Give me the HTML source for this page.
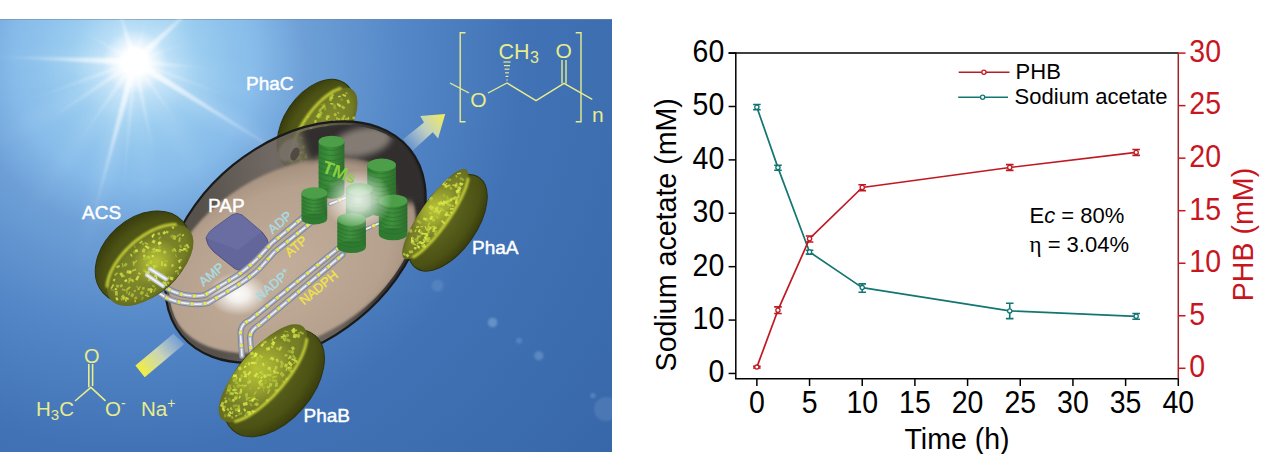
<!DOCTYPE html>
<html><head><meta charset="utf-8">
<style>
html,body{margin:0;padding:0;background:#fff;}
body{width:1269px;height:454px;overflow:hidden;position:relative;font-family:"Liberation Sans",sans-serif;}
svg{position:absolute;left:0;top:0;}
</style></head>
<body>
<svg width="1269" height="454" viewBox="0 0 1269 454" font-family="Liberation Sans, sans-serif">
<defs>
<radialGradient id="bg" gradientUnits="userSpaceOnUse" cx="134.7" cy="61.7" r="620">
    <stop offset="0" stop-color="#c8e6fa"/>
    <stop offset="0.1" stop-color="#98cbef"/>
    <stop offset="0.194" stop-color="#87bcea"/>
    <stop offset="0.274" stop-color="#6ea0d7"/>
    <stop offset="0.435" stop-color="#5487c7"/>
    <stop offset="0.629" stop-color="#4072b5"/>
    <stop offset="0.774" stop-color="#3c6eb0"/>
    <stop offset="1" stop-color="#3867a8"/>
  </radialGradient>
  <radialGradient id="sunglow" cx="134.7" cy="61.7" r="95" gradientUnits="userSpaceOnUse">
    <stop offset="0" stop-color="#ffffff" stop-opacity="1"/>
    <stop offset="0.12" stop-color="#f4fbff" stop-opacity="0.8"/>
    <stop offset="0.35" stop-color="#d0ecfc" stop-opacity="0.35"/>
    <stop offset="0.7" stop-color="#b8e0f8" stop-opacity="0.1"/>
    <stop offset="1" stop-color="#b0dcf6" stop-opacity="0"/>
  </radialGradient>
  <radialGradient id="suncore" cx="0.5" cy="0.5" r="0.5">
    <stop offset="0" stop-color="#fff" stop-opacity="1"/>
    <stop offset="0.3" stop-color="#fff" stop-opacity="0.9"/>
    <stop offset="0.6" stop-color="#fff" stop-opacity="0.35"/>
    <stop offset="1" stop-color="#fff" stop-opacity="0"/>
  </radialGradient>
  <linearGradient id="ray" x1="0" y1="0" x2="1" y2="0">
    <stop offset="0" stop-color="#fff" stop-opacity="0.95"/>
    <stop offset="0.3" stop-color="#fff" stop-opacity="0.6"/>
    <stop offset="0.7" stop-color="#fff" stop-opacity="0.2"/>
    <stop offset="1" stop-color="#fff" stop-opacity="0"/>
  </linearGradient>
  <radialGradient id="floor" cx="0.42" cy="0.55" r="0.6">
    <stop offset="0" stop-color="#c2ae9a"/>
    <stop offset="0.75" stop-color="#b6a18e"/>
    <stop offset="0.93" stop-color="#a89280"/>
    <stop offset="1" stop-color="#7e7066"/>
  </radialGradient>
  <radialGradient id="wheel" cx="0.55" cy="0.4" r="0.65">
    <stop offset="0" stop-color="#9c9a2a"/>
    <stop offset="0.6" stop-color="#7f7d1c"/>
    <stop offset="1" stop-color="#4d4b0e"/>
  </radialGradient>
  <radialGradient id="wheelside" cx="0.5" cy="0.5" r="0.6">
    <stop offset="0" stop-color="#777516"/>
    <stop offset="1" stop-color="#4a480c"/>
  </radialGradient>
  <linearGradient id="arrowG" gradientUnits="userSpaceOnUse" x1="405" y1="146" x2="445" y2="114">
    <stop offset="0" stop-color="#e8eef0" stop-opacity="0.1"/>
    <stop offset="0.5" stop-color="#eef0c0" stop-opacity="0.7"/>
    <stop offset="1" stop-color="#f2ee50" stop-opacity="1"/>
  </linearGradient>
  <linearGradient id="barG" gradientUnits="userSpaceOnUse" x1="140" y1="371" x2="180" y2="339">
    <stop offset="0" stop-color="#f0ee40" stop-opacity="1"/>
    <stop offset="0.5" stop-color="#e8eab0" stop-opacity="0.8"/>
    <stop offset="1" stop-color="#dde6f0" stop-opacity="0.25"/>
  </linearGradient>
  <radialGradient id="glow" cx="0.5" cy="0.5" r="0.5">
    <stop offset="0" stop-color="#fff" stop-opacity="1"/>
    <stop offset="0.35" stop-color="#fff" stop-opacity="0.85"/>
    <stop offset="1" stop-color="#fff" stop-opacity="0"/>
  </radialGradient>
  <linearGradient id="cyl" x1="0" y1="0" x2="1" y2="0">
    <stop offset="0" stop-color="#2f7c31"/>
    <stop offset="0.45" stop-color="#3f923d"/>
    <stop offset="1" stop-color="#2c6e2c"/>
  </linearGradient>
  <linearGradient id="shellG" gradientUnits="userSpaceOnUse" gradientTransform="rotate(39.2 295.5 242.1)" x1="200" y1="200" x2="420" y2="170">
    <stop offset="0" stop-color="#57514c"/>
    <stop offset="0.35" stop-color="#716a64"/>
    <stop offset="0.55" stop-color="#676059"/>
    <stop offset="0.75" stop-color="#3c3937"/>
    <stop offset="1" stop-color="#2c2a29"/>
  </linearGradient>
  <radialGradient id="treadU" cx="0.5" cy="0.35" r="0.7">
    <stop offset="0" stop-color="#646a22"/>
    <stop offset="0.7" stop-color="#4c5214"/>
    <stop offset="1" stop-color="#30340a"/>
  </radialGradient>
  <radialGradient id="treadD" cx="0.5" cy="0.65" r="0.7">
    <stop offset="0" stop-color="#646a22"/>
    <stop offset="0.7" stop-color="#4c5214"/>
    <stop offset="1" stop-color="#30340a"/>
  </radialGradient>
  <radialGradient id="face" cx="0.5" cy="0.5" r="0.55">
    <stop offset="0" stop-color="#8a9230"/>
    <stop offset="0.75" stop-color="#747c26"/>
    <stop offset="1" stop-color="#5a6018"/>
  </radialGradient>
  <radialGradient id="yglow" cx="0.5" cy="0.5" r="0.5">
    <stop offset="0" stop-color="#d4e03a" stop-opacity="0.65"/>
    <stop offset="1" stop-color="#d4e03a" stop-opacity="0"/>
  </radialGradient>
  <filter id="soft" x="-10%" y="-10%" width="120%" height="120%"><feGaussianBlur stdDeviation="0.8"/></filter>
  <filter id="blur6" x="-30%" y="-100%" width="160%" height="300%"><feGaussianBlur stdDeviation="6"/></filter>
  <filter id="blur3" x="-20%" y="-20%" width="140%" height="140%"><feGaussianBlur stdDeviation="3"/></filter>
  <filter id="blur2" x="-20%" y="-20%" width="140%" height="140%"><feGaussianBlur stdDeviation="1.6"/></filter>
  <linearGradient id="innerWall" gradientUnits="userSpaceOnUse" x1="290" y1="200" x2="420" y2="180">
    <stop offset="0" stop-color="#7a716a" stop-opacity="0"/>
    <stop offset="0.5" stop-color="#7a716a" stop-opacity="0.7"/>
    <stop offset="1" stop-color="#857b73" stop-opacity="1"/>
  </linearGradient>
  <radialGradient id="wallG" cx="0.5" cy="0.6" r="0.6">
    <stop offset="0" stop-color="#8a8077"/>
    <stop offset="0.75" stop-color="#6b635c"/>
    <stop offset="1" stop-color="#4a4440"/>
  </radialGradient>
  <clipPath id="illusClip"><rect x="0" y="19" width="612" height="433"/></clipPath>
</defs>
<g id="illus">
<g clip-path="url(#illusClip)">
<rect x="0" y="19" width="612" height="433" fill="url(#bg)"/>
<rect x="0" y="19" width="612" height="433" fill="url(#sunglow)"/>
<rect x="0" y="19" width="612" height="1" fill="#6f8aa8" opacity="0.55"/>
<circle cx="492.6" cy="322.5" r="4.8" fill="#cfe6fb" opacity="0.28" filter="url(#soft)"/>
<circle cx="519" cy="340.7" r="3" fill="#cfe6fb" opacity="0.18" filter="url(#soft)"/>
<circle cx="538.8" cy="355.8" r="4.6" fill="#cfe6fb" opacity="0.22" filter="url(#soft)"/>
<circle cx="593" cy="395.7" r="2.6" fill="#cfe6fb" opacity="0.2" filter="url(#soft)"/>
<circle cx="606" cy="409" r="12" fill="#cfe6fb" opacity="0.12" filter="url(#soft)"/>
<circle cx="437.6" cy="285.7" r="6" fill="#cfe6fb" opacity="0.12" filter="url(#soft)"/>
<g transform="translate(134.7 61.7) rotate(105)"><path d="M0 -14 L230 -4.2 L230 4.2 L0 14 Z" fill="url(#ray)" opacity="0.2" filter="url(#blur6)"/></g>
<g transform="translate(134.7 61.7) rotate(32)"><path d="M0 -14 L260 -4.2 L260 4.2 L0 14 Z" fill="url(#ray)" opacity="0.2" filter="url(#blur6)"/></g>
<g transform="translate(134.7 61.7) rotate(150)"><path d="M0 -12 L200 -3.6 L200 3.6 L0 12 Z" fill="url(#ray)" opacity="0.14" filter="url(#blur6)"/></g>
<g transform="translate(134.7 61.7) rotate(182)"><path d="M0 -10 L160 -3.0 L160 3.0 L0 10 Z" fill="url(#ray)" opacity="0.18" filter="url(#blur6)"/></g>
<g transform="translate(134.7 61.7) rotate(-43)"><path d="M0 -10 L120 -3.0 L120 3.0 L0 10 Z" fill="url(#ray)" opacity="0.18" filter="url(#blur6)"/></g>
<g transform="translate(134.7 61.7) rotate(125)"><path d="M0 -12 L220 -3.6 L220 3.6 L0 12 Z" fill="url(#ray)" opacity="0.12" filter="url(#blur6)"/></g>
<g transform="translate(134.7 61.7) rotate(60)"><path d="M0 -12 L200 -3.6 L200 3.6 L0 12 Z" fill="url(#ray)" opacity="0.1" filter="url(#blur6)"/></g>
<g transform="translate(134.7 61.7) rotate(5)"><path d="M0 -9 L150 -2.7 L150 2.7 L0 9 Z" fill="url(#ray)" opacity="0.12" filter="url(#blur6)"/></g>
<g transform="translate(134.7 61.7) rotate(-107)"><path d="M0 -9 L60 -2.7 L60 2.7 L0 9 Z" fill="url(#ray)" opacity="0.18" filter="url(#blur6)"/></g>
<g transform="translate(134.7 61.7) rotate(85)"><path d="M0 -10 L200 -3.0 L200 3.0 L0 10 Z" fill="url(#ray)" opacity="0.1" filter="url(#blur6)"/></g>
<g transform="translate(134.7 61.7) rotate(170)"><path d="M0 -9 L150 -2.7 L150 2.7 L0 9 Z" fill="url(#ray)" opacity="0.1" filter="url(#blur6)"/></g>
<g transform="translate(134.7 61.7) rotate(15)"><path d="M0 -10 L220 -3.0 L220 3.0 L0 10 Z" fill="url(#ray)" opacity="0.1" filter="url(#blur6)"/></g>
<g transform="translate(134.7 61.7) rotate(-107)"><path d="M0 -3.0 L70 0 L0 3.0 Z" fill="url(#ray)" opacity="0.95" filter="url(#soft)"/></g>
<g transform="translate(134.7 61.7) rotate(-43)"><path d="M0 -3.4 L110 0 L0 3.4 Z" fill="url(#ray)" opacity="0.95" filter="url(#soft)"/></g>
<g transform="translate(134.7 61.7) rotate(182)"><path d="M0 -3.4 L150 0 L0 3.4 Z" fill="url(#ray)" opacity="0.95" filter="url(#soft)"/></g>
<g transform="translate(134.7 61.7) rotate(105)"><path d="M0 -3.6 L180 0 L0 3.6 Z" fill="url(#ray)" opacity="0.95" filter="url(#soft)"/></g>
<g transform="translate(134.7 61.7) rotate(32)"><path d="M0 -3.6 L200 0 L0 3.6 Z" fill="url(#ray)" opacity="0.95" filter="url(#soft)"/></g>
<g transform="translate(134.7 61.7) rotate(5)"><path d="M0 -2.4 L80 0 L0 2.4 Z" fill="url(#ray)" opacity="0.7" filter="url(#soft)"/></g>
<g transform="translate(134.7 61.7) rotate(78.5)"><path d="M0 -2.6 L110 0 L0 2.6 Z" fill="url(#ray)" opacity="0.6" filter="url(#soft)"/></g>
<g transform="translate(134.7 61.7) rotate(146)"><path d="M0 -2.6 L120 0 L0 2.6 Z" fill="url(#ray)" opacity="0.6" filter="url(#soft)"/></g>
<g transform="translate(134.7 61.7) rotate(-75)"><path d="M0 -2.0 L50 0 L0 2.0 Z" fill="url(#ray)" opacity="0.55" filter="url(#soft)"/></g>
<g transform="translate(134.7 61.7) rotate(-150)"><path d="M0 -2.0 L70 0 L0 2.0 Z" fill="url(#ray)" opacity="0.5" filter="url(#soft)"/></g>
<g transform="translate(134.7 61.7) rotate(55)"><path d="M0 -2.0 L90 0 L0 2.0 Z" fill="url(#ray)" opacity="0.5" filter="url(#soft)"/></g>
<g transform="translate(134.7 61.7) rotate(125)"><path d="M0 -2.2 L110 0 L0 2.2 Z" fill="url(#ray)" opacity="0.55" filter="url(#soft)"/></g>
<g transform="translate(134.7 61.7) rotate(160)"><path d="M0 -2.2 L130 0 L0 2.2 Z" fill="url(#ray)" opacity="0.45" filter="url(#soft)"/></g>
<g transform="translate(134.7 61.7) rotate(95)"><path d="M0 -2.2 L150 0 L0 2.2 Z" fill="url(#ray)" opacity="0.45" filter="url(#soft)"/></g>
<g transform="translate(134.7 61.7) rotate(20)"><path d="M0 -2.0 L120 0 L0 2.0 Z" fill="url(#ray)" opacity="0.45" filter="url(#soft)"/></g>
<g transform="translate(134.7 61.7) rotate(-20)"><path d="M0 -1.8 L70 0 L0 1.8 Z" fill="url(#ray)" opacity="0.4" filter="url(#soft)"/></g>
<circle cx="134.7" cy="61.7" r="32" fill="url(#suncore)"/>
<circle cx="134.7" cy="61.7" r="13" fill="#fff" filter="url(#blur2)"/>
<g transform="rotate(-56 316 125)">
<ellipse cx="316" cy="125" rx="50.7" ry="32" fill="url(#treadD)" stroke="#2e320a" stroke-width="1"/>
</g>
<clipPath id="clipC"><ellipse cx="324.3" cy="130.6" rx="49.7" ry="22.0" transform="rotate(-56 324.3 130.6)"/></clipPath>
<ellipse cx="324.3" cy="130.6" rx="49.7" ry="22.0" transform="rotate(-56 324.3 130.6)" fill="url(#face)"/>
<g clip-path="url(#clipC)">
<rect x="309.7" y="160.2" width="4.8" height="2.1" fill="#c4da40" opacity="0.71" transform="rotate(91 309.7 160.2)"/>
<rect x="319.2" y="114.5" width="3.8" height="1.6" fill="#d8e848" opacity="0.51" transform="rotate(80 319.2 114.5)"/>
<rect x="305.0" y="146.3" width="3.4" height="2.7" fill="#d8e848" opacity="0.73" transform="rotate(117 305.0 146.3)"/>
<rect x="337.3" y="117.0" width="2.7" height="1.3" fill="#c4da40" opacity="0.65" transform="rotate(84 337.3 117.0)"/>
<rect x="302.4" y="159.6" width="3.5" height="2.5" fill="#d8e848" opacity="0.58" transform="rotate(82 302.4 159.6)"/>
<rect x="311.4" y="130.0" width="2.7" height="1.8" fill="#a8c038" opacity="0.79" transform="rotate(13 311.4 130.0)"/>
<rect x="340.7" y="118.5" width="2.2" height="1.2" fill="#d8e848" opacity="0.55" transform="rotate(123 340.7 118.5)"/>
<rect x="302.5" y="169.6" width="3.2" height="1.3" fill="#e6f250" opacity="0.80" transform="rotate(113 302.5 169.6)"/>
<rect x="324.9" y="147.0" width="2.0" height="2.0" fill="#d8e848" opacity="0.51" transform="rotate(166 324.9 147.0)"/>
<rect x="342.5" y="105.3" width="3.5" height="2.6" fill="#c4da40" opacity="0.68" transform="rotate(34 342.5 105.3)"/>
<rect x="315.5" y="154.5" width="3.2" height="3.2" fill="#e6f250" opacity="0.84" transform="rotate(0 315.5 154.5)"/>
<rect x="327.8" y="125.3" width="2.6" height="3.2" fill="#d8e848" opacity="0.71" transform="rotate(108 327.8 125.3)"/>
<rect x="335.6" y="112.8" width="2.8" height="2.7" fill="#d8e848" opacity="0.58" transform="rotate(59 335.6 112.8)"/>
<rect x="338.2" y="117.5" width="3.9" height="1.2" fill="#c4da40" opacity="0.73" transform="rotate(66 338.2 117.5)"/>
<rect x="338.5" y="103.1" width="3.7" height="2.9" fill="#c4da40" opacity="0.52" transform="rotate(33 338.5 103.1)"/>
<rect x="321.9" y="117.6" width="2.6" height="2.7" fill="#a8c038" opacity="0.54" transform="rotate(169 321.9 117.6)"/>
<rect x="330.2" y="102.9" width="3.3" height="1.4" fill="#c4da40" opacity="0.88" transform="rotate(7 330.2 102.9)"/>
<rect x="312.8" y="125.0" width="3.3" height="3.0" fill="#d8e848" opacity="0.68" transform="rotate(88 312.8 125.0)"/>
<rect x="345.0" y="117.8" width="4.0" height="2.4" fill="#c4da40" opacity="0.55" transform="rotate(13 345.0 117.8)"/>
<rect x="319.8" y="127.7" width="3.2" height="1.7" fill="#c4da40" opacity="0.58" transform="rotate(8 319.8 127.7)"/>
<rect x="335.7" y="121.1" width="3.4" height="1.9" fill="#c4da40" opacity="0.68" transform="rotate(132 335.7 121.1)"/>
<rect x="294.9" y="155.5" width="3.4" height="1.9" fill="#d8e848" opacity="0.47" transform="rotate(56 294.9 155.5)"/>
<rect x="304.2" y="163.9" width="3.0" height="3.2" fill="#d8e848" opacity="0.70" transform="rotate(14 304.2 163.9)"/>
<rect x="333.6" y="98.5" width="4.1" height="2.8" fill="#a8c038" opacity="0.61" transform="rotate(165 333.6 98.5)"/>
<rect x="334.5" y="95.7" width="3.3" height="2.8" fill="#a8c038" opacity="0.71" transform="rotate(155 334.5 95.7)"/>
<rect x="323.5" y="134.5" width="2.2" height="1.4" fill="#a8c038" opacity="0.57" transform="rotate(21 323.5 134.5)"/>
<rect x="311.8" y="126.8" width="4.2" height="2.4" fill="#d8e848" opacity="0.83" transform="rotate(79 311.8 126.8)"/>
<rect x="304.7" y="156.6" width="2.9" height="1.4" fill="#d8e848" opacity="0.88" transform="rotate(4 304.7 156.6)"/>
<rect x="304.5" y="160.5" width="4.8" height="1.7" fill="#c4da40" opacity="0.59" transform="rotate(2 304.5 160.5)"/>
<rect x="300.6" y="162.1" width="3.0" height="3.1" fill="#a8c038" opacity="0.56" transform="rotate(90 300.6 162.1)"/>
<rect x="312.1" y="134.8" width="3.3" height="2.8" fill="#a8c038" opacity="0.85" transform="rotate(165 312.1 134.8)"/>
<rect x="344.8" y="134.3" width="2.6" height="1.5" fill="#d8e848" opacity="0.85" transform="rotate(63 344.8 134.3)"/>
<rect x="302.4" y="128.8" width="2.8" height="1.5" fill="#c4da40" opacity="0.57" transform="rotate(81 302.4 128.8)"/>
<rect x="322.9" y="113.1" width="3.6" height="2.5" fill="#a8c038" opacity="0.83" transform="rotate(129 322.9 113.1)"/>
<rect x="328.1" y="154.7" width="2.8" height="2.4" fill="#e6f250" opacity="0.58" transform="rotate(122 328.1 154.7)"/>
<rect x="330.0" y="152.2" width="2.1" height="1.5" fill="#e6f250" opacity="0.46" transform="rotate(82 330.0 152.2)"/>
<rect x="331.3" y="133.7" width="2.1" height="2.5" fill="#e6f250" opacity="0.73" transform="rotate(80 331.3 133.7)"/>
<rect x="341.1" y="97.9" width="2.6" height="2.2" fill="#a8c038" opacity="0.45" transform="rotate(32 341.1 97.9)"/>
<rect x="318.9" y="137.2" width="2.7" height="2.8" fill="#c4da40" opacity="0.88" transform="rotate(97 318.9 137.2)"/>
<rect x="315.7" y="163.3" width="4.7" height="1.4" fill="#c4da40" opacity="0.78" transform="rotate(168 315.7 163.3)"/>
<rect x="315.8" y="148.1" width="4.7" height="1.2" fill="#e6f250" opacity="0.74" transform="rotate(99 315.8 148.1)"/>
<rect x="307.3" y="162.5" width="2.6" height="2.6" fill="#d8e848" opacity="0.74" transform="rotate(147 307.3 162.5)"/>
<rect x="345.3" y="132.8" width="4.9" height="3.2" fill="#e6f250" opacity="0.81" transform="rotate(97 345.3 132.8)"/>
<rect x="336.9" y="142.6" width="2.0" height="2.2" fill="#a8c038" opacity="0.60" transform="rotate(7 336.9 142.6)"/>
<rect x="314.7" y="119.7" width="2.1" height="2.8" fill="#c4da40" opacity="0.81" transform="rotate(12 314.7 119.7)"/>
<rect x="300.7" y="159.4" width="4.7" height="2.1" fill="#a8c038" opacity="0.86" transform="rotate(180 300.7 159.4)"/>
<rect x="337.3" y="102.9" width="4.8" height="1.4" fill="#e6f250" opacity="0.69" transform="rotate(40 337.3 102.9)"/>
<rect x="322.7" y="109.3" width="2.5" height="2.2" fill="#a8c038" opacity="0.57" transform="rotate(163 322.7 109.3)"/>
<rect x="342.8" y="93.7" width="3.8" height="1.8" fill="#e6f250" opacity="0.70" transform="rotate(25 342.8 93.7)"/>
<rect x="310.7" y="143.6" width="3.6" height="2.2" fill="#d8e848" opacity="0.46" transform="rotate(109 310.7 143.6)"/>
<rect x="307.1" y="153.7" width="4.4" height="2.3" fill="#d8e848" opacity="0.76" transform="rotate(88 307.1 153.7)"/>
<rect x="335.2" y="104.1" width="4.8" height="2.8" fill="#a8c038" opacity="0.56" transform="rotate(73 335.2 104.1)"/>
<rect x="344.0" y="118.5" width="4.4" height="3.0" fill="#c4da40" opacity="0.59" transform="rotate(86 344.0 118.5)"/>
<rect x="321.8" y="137.2" width="2.8" height="2.6" fill="#c4da40" opacity="0.47" transform="rotate(176 321.8 137.2)"/>
<rect x="341.1" y="135.4" width="3.0" height="1.9" fill="#d8e848" opacity="0.50" transform="rotate(112 341.1 135.4)"/>
<rect x="325.7" y="105.5" width="4.2" height="2.6" fill="#a8c038" opacity="0.46" transform="rotate(158 325.7 105.5)"/>
<rect x="321.7" y="109.1" width="3.6" height="2.9" fill="#c4da40" opacity="0.55" transform="rotate(96 321.7 109.1)"/>
<rect x="325.6" y="105.9" width="4.6" height="1.7" fill="#c4da40" opacity="0.81" transform="rotate(133 325.6 105.9)"/>
<rect x="327.1" y="145.0" width="4.8" height="1.6" fill="#c4da40" opacity="0.85" transform="rotate(180 327.1 145.0)"/>
<rect x="327.5" y="117.4" width="2.3" height="2.0" fill="#c4da40" opacity="0.87" transform="rotate(78 327.5 117.4)"/>
<rect x="343.1" y="130.0" width="4.4" height="1.4" fill="#e6f250" opacity="0.61" transform="rotate(103 343.1 130.0)"/>
<rect x="345.8" y="115.8" width="4.3" height="2.2" fill="#d8e848" opacity="0.54" transform="rotate(123 345.8 115.8)"/>
<rect x="320.6" y="136.7" width="4.3" height="2.4" fill="#c4da40" opacity="0.67" transform="rotate(163 320.6 136.7)"/>
<rect x="335.9" y="128.4" width="4.5" height="3.2" fill="#d8e848" opacity="0.49" transform="rotate(167 335.9 128.4)"/>
<rect x="348.7" y="116.8" width="2.2" height="1.4" fill="#e6f250" opacity="0.64" transform="rotate(70 348.7 116.8)"/>
<rect x="311.9" y="160.9" width="2.0" height="2.6" fill="#a8c038" opacity="0.53" transform="rotate(152 311.9 160.9)"/>
<rect x="322.3" y="150.6" width="4.8" height="2.4" fill="#e6f250" opacity="0.81" transform="rotate(17 322.3 150.6)"/>
<rect x="332.9" y="97.7" width="4.1" height="2.9" fill="#c4da40" opacity="0.63" transform="rotate(113 332.9 97.7)"/>
<rect x="298.5" y="167.9" width="4.4" height="1.7" fill="#c4da40" opacity="0.78" transform="rotate(164 298.5 167.9)"/>
<rect x="320.9" y="114.4" width="4.7" height="3.0" fill="#c4da40" opacity="0.80" transform="rotate(125 320.9 114.4)"/>
<rect x="314.2" y="162.7" width="2.2" height="1.9" fill="#e6f250" opacity="0.45" transform="rotate(84 314.2 162.7)"/>
<rect x="347.6" y="94.0" width="2.1" height="1.7" fill="#c4da40" opacity="0.58" transform="rotate(173 347.6 94.0)"/>
<rect x="303.2" y="138.8" width="3.6" height="2.0" fill="#d8e848" opacity="0.74" transform="rotate(180 303.2 138.8)"/>
<rect x="309.6" y="116.7" width="2.1" height="2.4" fill="#a8c038" opacity="0.57" transform="rotate(133 309.6 116.7)"/>
<rect x="301.6" y="163.4" width="3.9" height="1.2" fill="#e6f250" opacity="0.57" transform="rotate(47 301.6 163.4)"/>
<rect x="303.3" y="153.8" width="4.9" height="2.3" fill="#d8e848" opacity="0.74" transform="rotate(179 303.3 153.8)"/>
<rect x="300.2" y="157.3" width="4.9" height="2.0" fill="#c4da40" opacity="0.62" transform="rotate(169 300.2 157.3)"/>
<rect x="326.2" y="106.8" width="3.8" height="2.1" fill="#a8c038" opacity="0.58" transform="rotate(89 326.2 106.8)"/>
<rect x="305.8" y="145.4" width="2.9" height="2.5" fill="#e6f250" opacity="0.58" transform="rotate(101 305.8 145.4)"/>
<rect x="348.9" y="99.4" width="3.8" height="2.5" fill="#d8e848" opacity="0.76" transform="rotate(74 348.9 99.4)"/>
<rect x="333.3" y="98.5" width="2.2" height="3.2" fill="#c4da40" opacity="0.48" transform="rotate(170 333.3 98.5)"/>
<rect x="313.3" y="157.6" width="4.9" height="1.7" fill="#a8c038" opacity="0.87" transform="rotate(94 313.3 157.6)"/>
<rect x="352.7" y="116.4" width="2.7" height="2.6" fill="#d8e848" opacity="0.64" transform="rotate(9 352.7 116.4)"/>
<rect x="329.6" y="130.6" width="3.6" height="1.4" fill="#a8c038" opacity="0.75" transform="rotate(80 329.6 130.6)"/>
<rect x="299.9" y="149.6" width="4.0" height="1.9" fill="#c4da40" opacity="0.82" transform="rotate(134 299.9 149.6)"/>
<rect x="341.0" y="96.7" width="2.7" height="1.4" fill="#e6f250" opacity="0.80" transform="rotate(161 341.0 96.7)"/>
<rect x="334.1" y="143.9" width="4.2" height="2.6" fill="#c4da40" opacity="0.58" transform="rotate(34 334.1 143.9)"/>
<rect x="336.8" y="128.9" width="4.9" height="3.0" fill="#d8e848" opacity="0.47" transform="rotate(158 336.8 128.9)"/>
<rect x="337.8" y="111.7" width="2.1" height="1.3" fill="#d8e848" opacity="0.58" transform="rotate(40 337.8 111.7)"/>
<rect x="329.5" y="115.2" width="2.7" height="3.2" fill="#e6f250" opacity="0.61" transform="rotate(87 329.5 115.2)"/>
</g>
<path d="M291.2 161.2 L291.1 159.5 L291.1 157.8 L291.1 155.9 L291.3 154.0 L291.6 152.0 L291.9 150.0 L292.4 147.9 L293.0 145.7 L293.6 143.5 L294.3 141.3 L295.2 139.0 L296.1 136.7 L297.1 134.4 L298.1 132.1 L299.3 129.7 L300.5 127.4 L301.8 125.1 L303.2 122.8 L304.6 120.5 L306.1 118.3 L307.6 116.1 L309.2 113.9 L310.8 111.8 L312.4 109.7 L314.1 107.7 L315.9 105.8 L317.6 103.9 L319.4 102.1 L321.2 100.4 L323.0 98.8 L324.8 97.3 L326.6 95.9 L328.4 94.6 L330.1 93.3 L331.9 92.2 L333.6 91.2 L335.3 90.4 L337.0 89.6 L338.7 89.0 L340.3 88.4" stroke="#e4f040" stroke-width="2.6" fill="none" opacity="0.85" stroke-linecap="round" filter="url(#soft)"/>
<ellipse cx="295.5" cy="242.1" rx="147.2" ry="99.2" transform="rotate(-39.2 295.5 242.1)" fill="url(#shellG)" stroke="#1a1a1a" stroke-width="2.2"/>
<clipPath id="shellAll"><ellipse cx="295.5" cy="242.1" rx="145.7" ry="97.7" transform="rotate(-39.2 295.5 242.1)" /></clipPath>
<g clip-path="url(#shellAll)" opacity="0.22"><g transform="rotate(-56 316 125)">
<ellipse cx="316" cy="125" rx="50.7" ry="32" fill="url(#treadD)" stroke="#2e320a" stroke-width="1"/>
</g>
<clipPath id="clipC2"><ellipse cx="324.3" cy="130.6" rx="49.7" ry="22.0" transform="rotate(-56 324.3 130.6)"/></clipPath>
<ellipse cx="324.3" cy="130.6" rx="49.7" ry="22.0" transform="rotate(-56 324.3 130.6)" fill="url(#face)"/>
<g clip-path="url(#clipC2)">
<rect x="309.7" y="160.2" width="4.8" height="2.1" fill="#c4da40" opacity="0.71" transform="rotate(91 309.7 160.2)"/>
<rect x="319.2" y="114.5" width="3.8" height="1.6" fill="#d8e848" opacity="0.51" transform="rotate(80 319.2 114.5)"/>
<rect x="305.0" y="146.3" width="3.4" height="2.7" fill="#d8e848" opacity="0.73" transform="rotate(117 305.0 146.3)"/>
<rect x="337.3" y="117.0" width="2.7" height="1.3" fill="#c4da40" opacity="0.65" transform="rotate(84 337.3 117.0)"/>
<rect x="302.4" y="159.6" width="3.5" height="2.5" fill="#d8e848" opacity="0.58" transform="rotate(82 302.4 159.6)"/>
<rect x="311.4" y="130.0" width="2.7" height="1.8" fill="#a8c038" opacity="0.79" transform="rotate(13 311.4 130.0)"/>
<rect x="340.7" y="118.5" width="2.2" height="1.2" fill="#d8e848" opacity="0.55" transform="rotate(123 340.7 118.5)"/>
<rect x="302.5" y="169.6" width="3.2" height="1.3" fill="#e6f250" opacity="0.80" transform="rotate(113 302.5 169.6)"/>
<rect x="324.9" y="147.0" width="2.0" height="2.0" fill="#d8e848" opacity="0.51" transform="rotate(166 324.9 147.0)"/>
<rect x="342.5" y="105.3" width="3.5" height="2.6" fill="#c4da40" opacity="0.68" transform="rotate(34 342.5 105.3)"/>
<rect x="315.5" y="154.5" width="3.2" height="3.2" fill="#e6f250" opacity="0.84" transform="rotate(0 315.5 154.5)"/>
<rect x="327.8" y="125.3" width="2.6" height="3.2" fill="#d8e848" opacity="0.71" transform="rotate(108 327.8 125.3)"/>
<rect x="335.6" y="112.8" width="2.8" height="2.7" fill="#d8e848" opacity="0.58" transform="rotate(59 335.6 112.8)"/>
<rect x="338.2" y="117.5" width="3.9" height="1.2" fill="#c4da40" opacity="0.73" transform="rotate(66 338.2 117.5)"/>
<rect x="338.5" y="103.1" width="3.7" height="2.9" fill="#c4da40" opacity="0.52" transform="rotate(33 338.5 103.1)"/>
<rect x="321.9" y="117.6" width="2.6" height="2.7" fill="#a8c038" opacity="0.54" transform="rotate(169 321.9 117.6)"/>
<rect x="330.2" y="102.9" width="3.3" height="1.4" fill="#c4da40" opacity="0.88" transform="rotate(7 330.2 102.9)"/>
<rect x="312.8" y="125.0" width="3.3" height="3.0" fill="#d8e848" opacity="0.68" transform="rotate(88 312.8 125.0)"/>
<rect x="345.0" y="117.8" width="4.0" height="2.4" fill="#c4da40" opacity="0.55" transform="rotate(13 345.0 117.8)"/>
<rect x="319.8" y="127.7" width="3.2" height="1.7" fill="#c4da40" opacity="0.58" transform="rotate(8 319.8 127.7)"/>
<rect x="335.7" y="121.1" width="3.4" height="1.9" fill="#c4da40" opacity="0.68" transform="rotate(132 335.7 121.1)"/>
<rect x="294.9" y="155.5" width="3.4" height="1.9" fill="#d8e848" opacity="0.47" transform="rotate(56 294.9 155.5)"/>
<rect x="304.2" y="163.9" width="3.0" height="3.2" fill="#d8e848" opacity="0.70" transform="rotate(14 304.2 163.9)"/>
<rect x="333.6" y="98.5" width="4.1" height="2.8" fill="#a8c038" opacity="0.61" transform="rotate(165 333.6 98.5)"/>
<rect x="334.5" y="95.7" width="3.3" height="2.8" fill="#a8c038" opacity="0.71" transform="rotate(155 334.5 95.7)"/>
<rect x="323.5" y="134.5" width="2.2" height="1.4" fill="#a8c038" opacity="0.57" transform="rotate(21 323.5 134.5)"/>
<rect x="311.8" y="126.8" width="4.2" height="2.4" fill="#d8e848" opacity="0.83" transform="rotate(79 311.8 126.8)"/>
<rect x="304.7" y="156.6" width="2.9" height="1.4" fill="#d8e848" opacity="0.88" transform="rotate(4 304.7 156.6)"/>
<rect x="304.5" y="160.5" width="4.8" height="1.7" fill="#c4da40" opacity="0.59" transform="rotate(2 304.5 160.5)"/>
<rect x="300.6" y="162.1" width="3.0" height="3.1" fill="#a8c038" opacity="0.56" transform="rotate(90 300.6 162.1)"/>
<rect x="312.1" y="134.8" width="3.3" height="2.8" fill="#a8c038" opacity="0.85" transform="rotate(165 312.1 134.8)"/>
<rect x="344.8" y="134.3" width="2.6" height="1.5" fill="#d8e848" opacity="0.85" transform="rotate(63 344.8 134.3)"/>
<rect x="302.4" y="128.8" width="2.8" height="1.5" fill="#c4da40" opacity="0.57" transform="rotate(81 302.4 128.8)"/>
<rect x="322.9" y="113.1" width="3.6" height="2.5" fill="#a8c038" opacity="0.83" transform="rotate(129 322.9 113.1)"/>
<rect x="328.1" y="154.7" width="2.8" height="2.4" fill="#e6f250" opacity="0.58" transform="rotate(122 328.1 154.7)"/>
<rect x="330.0" y="152.2" width="2.1" height="1.5" fill="#e6f250" opacity="0.46" transform="rotate(82 330.0 152.2)"/>
<rect x="331.3" y="133.7" width="2.1" height="2.5" fill="#e6f250" opacity="0.73" transform="rotate(80 331.3 133.7)"/>
<rect x="341.1" y="97.9" width="2.6" height="2.2" fill="#a8c038" opacity="0.45" transform="rotate(32 341.1 97.9)"/>
<rect x="318.9" y="137.2" width="2.7" height="2.8" fill="#c4da40" opacity="0.88" transform="rotate(97 318.9 137.2)"/>
<rect x="315.7" y="163.3" width="4.7" height="1.4" fill="#c4da40" opacity="0.78" transform="rotate(168 315.7 163.3)"/>
<rect x="315.8" y="148.1" width="4.7" height="1.2" fill="#e6f250" opacity="0.74" transform="rotate(99 315.8 148.1)"/>
<rect x="307.3" y="162.5" width="2.6" height="2.6" fill="#d8e848" opacity="0.74" transform="rotate(147 307.3 162.5)"/>
<rect x="345.3" y="132.8" width="4.9" height="3.2" fill="#e6f250" opacity="0.81" transform="rotate(97 345.3 132.8)"/>
<rect x="336.9" y="142.6" width="2.0" height="2.2" fill="#a8c038" opacity="0.60" transform="rotate(7 336.9 142.6)"/>
<rect x="314.7" y="119.7" width="2.1" height="2.8" fill="#c4da40" opacity="0.81" transform="rotate(12 314.7 119.7)"/>
<rect x="300.7" y="159.4" width="4.7" height="2.1" fill="#a8c038" opacity="0.86" transform="rotate(180 300.7 159.4)"/>
<rect x="337.3" y="102.9" width="4.8" height="1.4" fill="#e6f250" opacity="0.69" transform="rotate(40 337.3 102.9)"/>
<rect x="322.7" y="109.3" width="2.5" height="2.2" fill="#a8c038" opacity="0.57" transform="rotate(163 322.7 109.3)"/>
<rect x="342.8" y="93.7" width="3.8" height="1.8" fill="#e6f250" opacity="0.70" transform="rotate(25 342.8 93.7)"/>
<rect x="310.7" y="143.6" width="3.6" height="2.2" fill="#d8e848" opacity="0.46" transform="rotate(109 310.7 143.6)"/>
<rect x="307.1" y="153.7" width="4.4" height="2.3" fill="#d8e848" opacity="0.76" transform="rotate(88 307.1 153.7)"/>
<rect x="335.2" y="104.1" width="4.8" height="2.8" fill="#a8c038" opacity="0.56" transform="rotate(73 335.2 104.1)"/>
<rect x="344.0" y="118.5" width="4.4" height="3.0" fill="#c4da40" opacity="0.59" transform="rotate(86 344.0 118.5)"/>
<rect x="321.8" y="137.2" width="2.8" height="2.6" fill="#c4da40" opacity="0.47" transform="rotate(176 321.8 137.2)"/>
<rect x="341.1" y="135.4" width="3.0" height="1.9" fill="#d8e848" opacity="0.50" transform="rotate(112 341.1 135.4)"/>
<rect x="325.7" y="105.5" width="4.2" height="2.6" fill="#a8c038" opacity="0.46" transform="rotate(158 325.7 105.5)"/>
<rect x="321.7" y="109.1" width="3.6" height="2.9" fill="#c4da40" opacity="0.55" transform="rotate(96 321.7 109.1)"/>
<rect x="325.6" y="105.9" width="4.6" height="1.7" fill="#c4da40" opacity="0.81" transform="rotate(133 325.6 105.9)"/>
<rect x="327.1" y="145.0" width="4.8" height="1.6" fill="#c4da40" opacity="0.85" transform="rotate(180 327.1 145.0)"/>
<rect x="327.5" y="117.4" width="2.3" height="2.0" fill="#c4da40" opacity="0.87" transform="rotate(78 327.5 117.4)"/>
<rect x="343.1" y="130.0" width="4.4" height="1.4" fill="#e6f250" opacity="0.61" transform="rotate(103 343.1 130.0)"/>
<rect x="345.8" y="115.8" width="4.3" height="2.2" fill="#d8e848" opacity="0.54" transform="rotate(123 345.8 115.8)"/>
<rect x="320.6" y="136.7" width="4.3" height="2.4" fill="#c4da40" opacity="0.67" transform="rotate(163 320.6 136.7)"/>
<rect x="335.9" y="128.4" width="4.5" height="3.2" fill="#d8e848" opacity="0.49" transform="rotate(167 335.9 128.4)"/>
<rect x="348.7" y="116.8" width="2.2" height="1.4" fill="#e6f250" opacity="0.64" transform="rotate(70 348.7 116.8)"/>
<rect x="311.9" y="160.9" width="2.0" height="2.6" fill="#a8c038" opacity="0.53" transform="rotate(152 311.9 160.9)"/>
<rect x="322.3" y="150.6" width="4.8" height="2.4" fill="#e6f250" opacity="0.81" transform="rotate(17 322.3 150.6)"/>
<rect x="332.9" y="97.7" width="4.1" height="2.9" fill="#c4da40" opacity="0.63" transform="rotate(113 332.9 97.7)"/>
<rect x="298.5" y="167.9" width="4.4" height="1.7" fill="#c4da40" opacity="0.78" transform="rotate(164 298.5 167.9)"/>
<rect x="320.9" y="114.4" width="4.7" height="3.0" fill="#c4da40" opacity="0.80" transform="rotate(125 320.9 114.4)"/>
<rect x="314.2" y="162.7" width="2.2" height="1.9" fill="#e6f250" opacity="0.45" transform="rotate(84 314.2 162.7)"/>
<rect x="347.6" y="94.0" width="2.1" height="1.7" fill="#c4da40" opacity="0.58" transform="rotate(173 347.6 94.0)"/>
<rect x="303.2" y="138.8" width="3.6" height="2.0" fill="#d8e848" opacity="0.74" transform="rotate(180 303.2 138.8)"/>
<rect x="309.6" y="116.7" width="2.1" height="2.4" fill="#a8c038" opacity="0.57" transform="rotate(133 309.6 116.7)"/>
<rect x="301.6" y="163.4" width="3.9" height="1.2" fill="#e6f250" opacity="0.57" transform="rotate(47 301.6 163.4)"/>
<rect x="303.3" y="153.8" width="4.9" height="2.3" fill="#d8e848" opacity="0.74" transform="rotate(179 303.3 153.8)"/>
<rect x="300.2" y="157.3" width="4.9" height="2.0" fill="#c4da40" opacity="0.62" transform="rotate(169 300.2 157.3)"/>
<rect x="326.2" y="106.8" width="3.8" height="2.1" fill="#a8c038" opacity="0.58" transform="rotate(89 326.2 106.8)"/>
<rect x="305.8" y="145.4" width="2.9" height="2.5" fill="#e6f250" opacity="0.58" transform="rotate(101 305.8 145.4)"/>
<rect x="348.9" y="99.4" width="3.8" height="2.5" fill="#d8e848" opacity="0.76" transform="rotate(74 348.9 99.4)"/>
<rect x="333.3" y="98.5" width="2.2" height="3.2" fill="#c4da40" opacity="0.48" transform="rotate(170 333.3 98.5)"/>
<rect x="313.3" y="157.6" width="4.9" height="1.7" fill="#a8c038" opacity="0.87" transform="rotate(94 313.3 157.6)"/>
<rect x="352.7" y="116.4" width="2.7" height="2.6" fill="#d8e848" opacity="0.64" transform="rotate(9 352.7 116.4)"/>
<rect x="329.6" y="130.6" width="3.6" height="1.4" fill="#a8c038" opacity="0.75" transform="rotate(80 329.6 130.6)"/>
<rect x="299.9" y="149.6" width="4.0" height="1.9" fill="#c4da40" opacity="0.82" transform="rotate(134 299.9 149.6)"/>
<rect x="341.0" y="96.7" width="2.7" height="1.4" fill="#e6f250" opacity="0.80" transform="rotate(161 341.0 96.7)"/>
<rect x="334.1" y="143.9" width="4.2" height="2.6" fill="#c4da40" opacity="0.58" transform="rotate(34 334.1 143.9)"/>
<rect x="336.8" y="128.9" width="4.9" height="3.0" fill="#d8e848" opacity="0.47" transform="rotate(158 336.8 128.9)"/>
<rect x="337.8" y="111.7" width="2.1" height="1.3" fill="#d8e848" opacity="0.58" transform="rotate(40 337.8 111.7)"/>
<rect x="329.5" y="115.2" width="2.7" height="3.2" fill="#e6f250" opacity="0.61" transform="rotate(87 329.5 115.2)"/>
</g>
<path d="M291.2 161.2 L291.1 159.5 L291.1 157.8 L291.1 155.9 L291.3 154.0 L291.6 152.0 L291.9 150.0 L292.4 147.9 L293.0 145.7 L293.6 143.5 L294.3 141.3 L295.2 139.0 L296.1 136.7 L297.1 134.4 L298.1 132.1 L299.3 129.7 L300.5 127.4 L301.8 125.1 L303.2 122.8 L304.6 120.5 L306.1 118.3 L307.6 116.1 L309.2 113.9 L310.8 111.8 L312.4 109.7 L314.1 107.7 L315.9 105.8 L317.6 103.9 L319.4 102.1 L321.2 100.4 L323.0 98.8 L324.8 97.3 L326.6 95.9 L328.4 94.6 L330.1 93.3 L331.9 92.2 L333.6 91.2 L335.3 90.4 L337.0 89.6 L338.7 89.0 L340.3 88.4" stroke="#e4f040" stroke-width="2.6" fill="none" opacity="0.85" stroke-linecap="round" filter="url(#soft)"/></g>
<ellipse cx="289" cy="150" rx="13" ry="9" transform="rotate(-50 289 150)" fill="#7a736c" opacity="0.8" filter="url(#soft)"/>
<ellipse cx="295" cy="154" rx="4" ry="7" transform="rotate(25 295 154)" fill="#4a4640" opacity="0.9"/>
<clipPath id="shellIn"><ellipse cx="295.5" cy="242.1" rx="143.7" ry="95.7" transform="rotate(-39.2 295.5 242.1)" /></clipPath>
<g clip-path="url(#shellIn)">
<ellipse cx="292.1" cy="255.2" rx="133.3" ry="84.4" transform="rotate(-28.7 292.1 255.2)" fill="url(#floor)" filter="url(#soft)"/>
<path d="M304.8 143.5 L309.2 142.2 L313.5 141.0 L317.8 140.0 L322.1 139.1 L326.4 138.4 L330.6 137.8 L334.7 137.4 L338.8 137.2 L342.9 137.1 L346.8 137.1 L350.7 137.3 L354.5 137.7 L358.3 138.2 L361.9 138.9 L365.4 139.7 L368.9 140.7 L372.2 141.8 L375.4 143.1 L378.5 144.5 L381.4 146.0 L384.3 147.7 L387.0 149.6 L389.6 151.6 L392.0 153.7 L394.3 155.9 L396.4 158.3 L398.4 160.8 L400.3 163.4 L402.0 166.1 L403.5 169.0 L404.9 171.9 L406.1 175.0 L407.1 178.1 L408.0 181.4 L408.8 184.7 L409.3 188.1 L409.7 191.6 L409.9 195.2 L410.0 198.8 L409.8 202.5" stroke="#302e2d" stroke-width="34" fill="none" stroke-linecap="butt" filter="url(#blur3)"/>
<ellipse cx="362" cy="142" rx="30" ry="14" transform="rotate(-12 362 142)" fill="#8d857d" filter="url(#blur3)" opacity="0.9"/>
</g>
<ellipse cx="238" cy="294" rx="30" ry="22" fill="url(#glow)" opacity="0.95"/>
<path d="M206 238 Q208 232 214 228 L232 215 Q237 212 242 215 L262 232 Q268 238 269 246 Q268 251 262 256 L244 268 Q239 272 234 268 L214 252 Q207 246 206 238 Z" fill="#62669a" stroke="#4c5080" stroke-width="1"/>
<path d="M206 238 Q208 232 214 228 L232 215 Q237 212 242 215 L262 232 Q250 240 238 250 Q222 244 206 238Z" fill="#6e72a6" opacity="0.6"/>
<path d="M153 273 Q163 291 185 295 Q195 297 205 295 L238 275 Q250 266 258 258 L272 243 L307 214" stroke="#7e8596" stroke-width="6" fill="none" stroke-linecap="round"/>
<path d="M153 273 Q163 291 185 295 Q195 297 205 295 L238 275 Q250 266 258 258 L272 243 L307 214" stroke="#a9b0c0" stroke-width="4" fill="none" stroke-linecap="round"/>
<path d="M153 273 Q163 291 185 295 Q195 297 205 295 L238 275 Q250 266 258 258 L272 243 L307 214" stroke="#eef0f4" stroke-width="1.6" fill="none" stroke-dasharray="7 6" stroke-linecap="round"/>
<path d="M153 273 Q163 291 185 295 Q195 297 205 295 L238 275 Q250 266 258 258 L272 243 L307 214" stroke="#eaea40" stroke-width="3" fill="none" stroke-dasharray="3 10" stroke-dashoffset="4"/>
<path d="M150 282 Q161 301 188 303.5 Q198 305 208 303 L238 285 Q252 276 260 268 L274 252.5 L313 221" stroke="#7e8596" stroke-width="6" fill="none" stroke-linecap="round"/>
<path d="M150 282 Q161 301 188 303.5 Q198 305 208 303 L238 285 Q252 276 260 268 L274 252.5 L313 221" stroke="#a9b0c0" stroke-width="4" fill="none" stroke-linecap="round"/>
<path d="M150 282 Q161 301 188 303.5 Q198 305 208 303 L238 285 Q252 276 260 268 L274 252.5 L313 221" stroke="#eef0f4" stroke-width="1.6" fill="none" stroke-dasharray="7 6" stroke-linecap="round"/>
<path d="M150 282 Q161 301 188 303.5 Q198 305 208 303 L238 285 Q252 276 260 268 L274 252.5 L313 221" stroke="#eaea40" stroke-width="3" fill="none" stroke-dasharray="3 10" stroke-dashoffset="4"/>
<path d="M242 356 L240.5 334 Q240 324 250 320 L338 248.5" stroke="#7e8596" stroke-width="6" fill="none" stroke-linecap="round"/>
<path d="M242 356 L240.5 334 Q240 324 250 320 L338 248.5" stroke="#a9b0c0" stroke-width="4" fill="none" stroke-linecap="round"/>
<path d="M242 356 L240.5 334 Q240 324 250 320 L338 248.5" stroke="#eef0f4" stroke-width="1.6" fill="none" stroke-dasharray="7 6" stroke-linecap="round"/>
<path d="M242 356 L240.5 334 Q240 324 250 320 L338 248.5" stroke="#eaea40" stroke-width="3" fill="none" stroke-dasharray="3 10" stroke-dashoffset="4"/>
<path d="M251.6 358 L250 338 Q250 330 259 325 L342.6 254.7" stroke="#7e8596" stroke-width="6" fill="none" stroke-linecap="round"/>
<path d="M251.6 358 L250 338 Q250 330 259 325 L342.6 254.7" stroke="#a9b0c0" stroke-width="4" fill="none" stroke-linecap="round"/>
<path d="M251.6 358 L250 338 Q250 330 259 325 L342.6 254.7" stroke="#eef0f4" stroke-width="1.6" fill="none" stroke-dasharray="7 6" stroke-linecap="round"/>
<path d="M251.6 358 L250 338 Q250 330 259 325 L342.6 254.7" stroke="#eaea40" stroke-width="3" fill="none" stroke-dasharray="3 10" stroke-dashoffset="4"/>
<path d="M330 204 L350 196" stroke="#7e8596" stroke-width="4" fill="none" stroke-linecap="round"/>
<path d="M330 204 L350 196" stroke="#a9b0c0" stroke-width="2" fill="none" stroke-linecap="round"/>
<path d="M330 204 L350 196" stroke="#eef0f4" stroke-width="1.6" fill="none" stroke-dasharray="7 6" stroke-linecap="round"/>
<path d="M330 204 L350 196" stroke="#eaea40" stroke-width="3" fill="none" stroke-dasharray="3 10" stroke-dashoffset="4"/>
<path d="M372 214 L386 208" stroke="#7e8596" stroke-width="4" fill="none" stroke-linecap="round"/>
<path d="M372 214 L386 208" stroke="#a9b0c0" stroke-width="2" fill="none" stroke-linecap="round"/>
<path d="M372 214 L386 208" stroke="#eef0f4" stroke-width="1.6" fill="none" stroke-dasharray="7 6" stroke-linecap="round"/>
<path d="M372 214 L386 208" stroke="#eaea40" stroke-width="3" fill="none" stroke-dasharray="3 10" stroke-dashoffset="4"/>
<path d="M364 230 L382 222" stroke="#7e8596" stroke-width="4" fill="none" stroke-linecap="round"/>
<path d="M364 230 L382 222" stroke="#a9b0c0" stroke-width="2" fill="none" stroke-linecap="round"/>
<path d="M364 230 L382 222" stroke="#eef0f4" stroke-width="1.6" fill="none" stroke-dasharray="7 6" stroke-linecap="round"/>
<path d="M364 230 L382 222" stroke="#eaea40" stroke-width="3" fill="none" stroke-dasharray="3 10" stroke-dashoffset="4"/>
<rect x="318.6" y="141.37599999999998" width="25.8" height="51.647999999999996" fill="url(#cyl)"/>
<ellipse cx="331.5" cy="193.024" rx="12.9" ry="5.676" fill="#2e7a30"/>
<path d="M318.6 146.5 Q331.5 154.3 344.40000000000003 146.5" stroke="#2a682a" stroke-width="0.9" fill="none" opacity="0.6"/>
<path d="M318.6 151.7 Q331.5 159.4 344.40000000000003 151.7" stroke="#2a682a" stroke-width="0.9" fill="none" opacity="0.6"/>
<path d="M318.6 156.9 Q331.5 164.6 344.40000000000003 156.9" stroke="#2a682a" stroke-width="0.9" fill="none" opacity="0.6"/>
<path d="M318.6 162.0 Q331.5 169.8 344.40000000000003 162.0" stroke="#2a682a" stroke-width="0.9" fill="none" opacity="0.6"/>
<path d="M318.6 167.2 Q331.5 174.9 344.40000000000003 167.2" stroke="#2a682a" stroke-width="0.9" fill="none" opacity="0.6"/>
<path d="M318.6 172.4 Q331.5 180.1 344.40000000000003 172.4" stroke="#2a682a" stroke-width="0.9" fill="none" opacity="0.6"/>
<path d="M318.6 177.5 Q331.5 185.3 344.40000000000003 177.5" stroke="#2a682a" stroke-width="0.9" fill="none" opacity="0.6"/>
<path d="M318.6 182.7 Q331.5 190.4 344.40000000000003 182.7" stroke="#2a682a" stroke-width="0.9" fill="none" opacity="0.6"/>
<path d="M318.6 187.9 Q331.5 195.6 344.40000000000003 187.9" stroke="#2a682a" stroke-width="0.9" fill="none" opacity="0.6"/>
<ellipse cx="331.5" cy="141.37599999999998" rx="12.9" ry="5.676" fill="#4c9e48"/>
<rect x="367.3" y="164.914" width="28.7" height="44.772" fill="url(#cyl)"/>
<ellipse cx="381.65000000000003" cy="209.686" rx="14.35" ry="6.314" fill="#2e7a30"/>
<path d="M367.3 169.4 Q381.65000000000003 178.0 396.0 169.4" stroke="#2a682a" stroke-width="0.9" fill="none" opacity="0.6"/>
<path d="M367.3 173.9 Q381.65000000000003 182.5 396.0 173.9" stroke="#2a682a" stroke-width="0.9" fill="none" opacity="0.6"/>
<path d="M367.3 178.3 Q381.65000000000003 187.0 396.0 178.3" stroke="#2a682a" stroke-width="0.9" fill="none" opacity="0.6"/>
<path d="M367.3 182.8 Q381.65000000000003 191.4 396.0 182.8" stroke="#2a682a" stroke-width="0.9" fill="none" opacity="0.6"/>
<path d="M367.3 187.3 Q381.65000000000003 195.9 396.0 187.3" stroke="#2a682a" stroke-width="0.9" fill="none" opacity="0.6"/>
<path d="M367.3 191.8 Q381.65000000000003 200.4 396.0 191.8" stroke="#2a682a" stroke-width="0.9" fill="none" opacity="0.6"/>
<path d="M367.3 196.3 Q381.65000000000003 204.9 396.0 196.3" stroke="#2a682a" stroke-width="0.9" fill="none" opacity="0.6"/>
<path d="M367.3 200.7 Q381.65000000000003 209.3 396.0 200.7" stroke="#2a682a" stroke-width="0.9" fill="none" opacity="0.6"/>
<path d="M367.3 205.2 Q381.65000000000003 213.8 396.0 205.2" stroke="#2a682a" stroke-width="0.9" fill="none" opacity="0.6"/>
<ellipse cx="381.65000000000003" cy="164.914" rx="14.35" ry="6.314" fill="#4c9e48"/>
<rect x="301.5" y="192.954" width="25.7" height="25.892000000000003" fill="url(#cyl)"/>
<ellipse cx="314.35" cy="218.846" rx="12.85" ry="5.654" fill="#2e7a30"/>
<path d="M301.5 196.7 Q314.35 204.4 327.2 196.7" stroke="#2a682a" stroke-width="0.9" fill="none" opacity="0.6"/>
<path d="M301.5 200.4 Q314.35 208.1 327.2 200.4" stroke="#2a682a" stroke-width="0.9" fill="none" opacity="0.6"/>
<path d="M301.5 204.1 Q314.35 211.8 327.2 204.1" stroke="#2a682a" stroke-width="0.9" fill="none" opacity="0.6"/>
<path d="M301.5 207.7 Q314.35 215.5 327.2 207.7" stroke="#2a682a" stroke-width="0.9" fill="none" opacity="0.6"/>
<path d="M301.5 211.4 Q314.35 219.2 327.2 211.4" stroke="#2a682a" stroke-width="0.9" fill="none" opacity="0.6"/>
<path d="M301.5 215.1 Q314.35 222.9 327.2 215.1" stroke="#2a682a" stroke-width="0.9" fill="none" opacity="0.6"/>
<ellipse cx="314.35" cy="192.954" rx="12.85" ry="5.654" fill="#4c9e48"/>
<rect x="345.8" y="188.984" width="27.2" height="23.831999999999997" fill="url(#cyl)"/>
<ellipse cx="359.40000000000003" cy="212.816" rx="13.6" ry="5.984" fill="#2e7a30"/>
<path d="M345.8 193.0 Q359.40000000000003 201.1 373.0 193.0" stroke="#2a682a" stroke-width="0.9" fill="none" opacity="0.6"/>
<path d="M345.8 196.9 Q359.40000000000003 205.1 373.0 196.9" stroke="#2a682a" stroke-width="0.9" fill="none" opacity="0.6"/>
<path d="M345.8 200.9 Q359.40000000000003 209.1 373.0 200.9" stroke="#2a682a" stroke-width="0.9" fill="none" opacity="0.6"/>
<path d="M345.8 204.9 Q359.40000000000003 213.0 373.0 204.9" stroke="#2a682a" stroke-width="0.9" fill="none" opacity="0.6"/>
<path d="M345.8 208.8 Q359.40000000000003 217.0 373.0 208.8" stroke="#2a682a" stroke-width="0.9" fill="none" opacity="0.6"/>
<ellipse cx="359.40000000000003" cy="188.984" rx="13.6" ry="5.984" fill="#4c9e48"/>
<rect x="378.8" y="200.692" width="28.6" height="33.315999999999995" fill="url(#cyl)"/>
<ellipse cx="393.1" cy="234.008" rx="14.3" ry="6.292000000000001" fill="#2e7a30"/>
<path d="M378.8 204.9 Q393.1 213.4 407.40000000000003 204.9" stroke="#2a682a" stroke-width="0.9" fill="none" opacity="0.6"/>
<path d="M378.8 209.0 Q393.1 217.6 407.40000000000003 209.0" stroke="#2a682a" stroke-width="0.9" fill="none" opacity="0.6"/>
<path d="M378.8 213.2 Q393.1 221.8 407.40000000000003 213.2" stroke="#2a682a" stroke-width="0.9" fill="none" opacity="0.6"/>
<path d="M378.8 217.3 Q393.1 225.9 407.40000000000003 217.3" stroke="#2a682a" stroke-width="0.9" fill="none" opacity="0.6"/>
<path d="M378.8 221.5 Q393.1 230.1 407.40000000000003 221.5" stroke="#2a682a" stroke-width="0.9" fill="none" opacity="0.6"/>
<path d="M378.8 225.7 Q393.1 234.3 407.40000000000003 225.7" stroke="#2a682a" stroke-width="0.9" fill="none" opacity="0.6"/>
<path d="M378.8 229.8 Q393.1 238.4 407.40000000000003 229.8" stroke="#2a682a" stroke-width="0.9" fill="none" opacity="0.6"/>
<ellipse cx="393.1" cy="200.692" rx="14.3" ry="6.292000000000001" fill="#4c9e48"/>
<rect x="337.3" y="219.292" width="28.6" height="27.415999999999997" fill="url(#cyl)"/>
<ellipse cx="351.6" cy="246.708" rx="14.3" ry="6.292000000000001" fill="#2e7a30"/>
<path d="M337.3 223.2 Q351.6 231.8 365.90000000000003 223.2" stroke="#2a682a" stroke-width="0.9" fill="none" opacity="0.6"/>
<path d="M337.3 227.1 Q351.6 235.7 365.90000000000003 227.1" stroke="#2a682a" stroke-width="0.9" fill="none" opacity="0.6"/>
<path d="M337.3 231.0 Q351.6 239.6 365.90000000000003 231.0" stroke="#2a682a" stroke-width="0.9" fill="none" opacity="0.6"/>
<path d="M337.3 235.0 Q351.6 243.5 365.90000000000003 235.0" stroke="#2a682a" stroke-width="0.9" fill="none" opacity="0.6"/>
<path d="M337.3 238.9 Q351.6 247.5 365.90000000000003 238.9" stroke="#2a682a" stroke-width="0.9" fill="none" opacity="0.6"/>
<path d="M337.3 242.8 Q351.6 251.4 365.90000000000003 242.8" stroke="#2a682a" stroke-width="0.9" fill="none" opacity="0.6"/>
<ellipse cx="351.6" cy="219.292" rx="14.3" ry="6.292000000000001" fill="#4c9e48"/>
<ellipse cx="358" cy="200" rx="34" ry="30" fill="url(#glow)" opacity="0.85"/>
<text x="321" y="172" font-size="18" font-weight="bold" fill="#8ace40" transform="rotate(20 321 172)">TM<tspan font-size="15">s</tspan></text>
<text x="272.5" y="234.4" font-size="13" fill="#a9dde6" stroke="#a9dde6" stroke-width="0.35" transform="rotate(-40 272.5 234.4)">ADP</text>
<text x="289.5" y="257.5" font-size="13" fill="#f0e448" stroke="#f0e448" stroke-width="0.35" transform="rotate(-40 289.5 257.5)">ATP</text>
<text x="203.5" y="286.8" font-size="13" fill="#a9dde6" stroke="#a9dde6" stroke-width="0.35" transform="rotate(-40 203.5 286.8)">AMP</text>
<text x="260" y="301.4" font-size="13" fill="#a9dde6" stroke="#a9dde6" stroke-width="0.35" transform="rotate(-40 260 301.4)">NADP<tspan font-size="8" dy="-5">+</tspan></text>
<text x="304" y="305.6" font-size="13" fill="#f0e448" stroke="#f0e448" stroke-width="0.35" transform="rotate(-40 304 305.6)">NADPH</text>
<g transform="rotate(-42 142.8 257)">
<ellipse cx="142.8" cy="257" rx="53.5" ry="38.8" fill="url(#treadD)" stroke="#2e320a" stroke-width="1"/>
</g>
<clipPath id="clipA"><ellipse cx="150.2" cy="265.2" rx="52.5" ry="27.799999999999997" transform="rotate(-42 150.2 265.2)"/></clipPath>
<ellipse cx="150.2" cy="265.2" rx="52.5" ry="27.799999999999997" transform="rotate(-42 150.2 265.2)" fill="url(#face)"/>
<g clip-path="url(#clipA)">
<circle cx="156" cy="262" r="24" fill="url(#yglow)"/>
<rect x="145.2" y="294.3" width="4.5" height="1.3" fill="#c4da40" opacity="0.81" transform="rotate(22 145.2 294.3)"/>
<rect x="126.1" y="297.1" width="3.2" height="1.5" fill="#e6f250" opacity="0.83" transform="rotate(28 126.1 297.1)"/>
<rect x="156.6" y="288.3" width="4.5" height="1.6" fill="#a8c038" opacity="0.71" transform="rotate(118 156.6 288.3)"/>
<rect x="153.9" y="255.0" width="2.2" height="2.3" fill="#e6f250" opacity="0.76" transform="rotate(87 153.9 255.0)"/>
<rect x="150.2" y="262.1" width="2.9" height="3.0" fill="#a8c038" opacity="0.76" transform="rotate(109 150.2 262.1)"/>
<rect x="131.4" y="253.7" width="2.8" height="1.5" fill="#e6f250" opacity="0.78" transform="rotate(64 131.4 253.7)"/>
<rect x="161.7" y="243.9" width="3.3" height="2.4" fill="#e6f250" opacity="0.76" transform="rotate(162 161.7 243.9)"/>
<rect x="126.2" y="298.4" width="2.9" height="1.8" fill="#c4da40" opacity="0.87" transform="rotate(72 126.2 298.4)"/>
<rect x="186.2" y="248.5" width="2.1" height="2.6" fill="#e6f250" opacity="0.81" transform="rotate(105 186.2 248.5)"/>
<rect x="145.8" y="244.9" width="4.5" height="2.3" fill="#e6f250" opacity="0.79" transform="rotate(32 145.8 244.9)"/>
<rect x="149.1" y="251.1" width="2.2" height="1.5" fill="#a8c038" opacity="0.46" transform="rotate(53 149.1 251.1)"/>
<rect x="179.5" y="248.7" width="4.4" height="1.4" fill="#e6f250" opacity="0.78" transform="rotate(15 179.5 248.7)"/>
<rect x="181.7" y="250.7" width="2.4" height="2.7" fill="#c4da40" opacity="0.56" transform="rotate(117 181.7 250.7)"/>
<rect x="117.2" y="297.1" width="3.0" height="2.1" fill="#e6f250" opacity="0.81" transform="rotate(63 117.2 297.1)"/>
<rect x="127.7" y="264.0" width="3.6" height="2.6" fill="#a8c038" opacity="0.86" transform="rotate(127 127.7 264.0)"/>
<rect x="134.8" y="244.9" width="3.0" height="1.2" fill="#a8c038" opacity="0.49" transform="rotate(68 134.8 244.9)"/>
<rect x="174.3" y="236.2" width="3.6" height="2.6" fill="#a8c038" opacity="0.64" transform="rotate(144 174.3 236.2)"/>
<rect x="161.2" y="246.6" width="2.5" height="2.5" fill="#a8c038" opacity="0.59" transform="rotate(123 161.2 246.6)"/>
<rect x="137.1" y="285.4" width="4.9" height="1.3" fill="#c4da40" opacity="0.50" transform="rotate(56 137.1 285.4)"/>
<rect x="145.5" y="255.0" width="2.2" height="2.1" fill="#d8e848" opacity="0.86" transform="rotate(105 145.5 255.0)"/>
<rect x="151.1" y="278.5" width="3.1" height="2.4" fill="#c4da40" opacity="0.66" transform="rotate(108 151.1 278.5)"/>
<rect x="124.2" y="300.1" width="3.2" height="3.0" fill="#a8c038" opacity="0.73" transform="rotate(169 124.2 300.1)"/>
<rect x="155.8" y="241.0" width="3.2" height="3.1" fill="#d8e848" opacity="0.80" transform="rotate(119 155.8 241.0)"/>
<rect x="134.3" y="281.3" width="2.1" height="3.1" fill="#e6f250" opacity="0.62" transform="rotate(144 134.3 281.3)"/>
<rect x="148.2" y="258.9" width="4.8" height="3.0" fill="#a8c038" opacity="0.86" transform="rotate(157 148.2 258.9)"/>
<rect x="145.1" y="241.9" width="3.8" height="1.5" fill="#e6f250" opacity="0.59" transform="rotate(28 145.1 241.9)"/>
<rect x="168.8" y="231.5" width="2.4" height="2.7" fill="#d8e848" opacity="0.68" transform="rotate(112 168.8 231.5)"/>
<rect x="180.8" y="262.1" width="2.0" height="2.8" fill="#d8e848" opacity="0.82" transform="rotate(152 180.8 262.1)"/>
<rect x="144.1" y="292.3" width="3.6" height="3.0" fill="#e6f250" opacity="0.49" transform="rotate(125 144.1 292.3)"/>
<rect x="166.5" y="252.3" width="2.6" height="2.6" fill="#d8e848" opacity="0.65" transform="rotate(141 166.5 252.3)"/>
<rect x="121.8" y="284.0" width="2.5" height="2.9" fill="#d8e848" opacity="0.59" transform="rotate(56 121.8 284.0)"/>
<rect x="110.6" y="288.9" width="4.0" height="1.3" fill="#a8c038" opacity="0.51" transform="rotate(13 110.6 288.9)"/>
<rect x="123.0" y="263.0" width="4.4" height="1.4" fill="#a8c038" opacity="0.84" transform="rotate(80 123.0 263.0)"/>
<rect x="165.1" y="277.5" width="3.4" height="1.2" fill="#c4da40" opacity="0.81" transform="rotate(178 165.1 277.5)"/>
<rect x="157.7" y="250.6" width="3.9" height="3.1" fill="#a8c038" opacity="0.88" transform="rotate(135 157.7 250.6)"/>
<rect x="138.5" y="272.2" width="2.6" height="2.0" fill="#e6f250" opacity="0.59" transform="rotate(20 138.5 272.2)"/>
<rect x="116.4" y="284.3" width="3.0" height="2.9" fill="#d8e848" opacity="0.51" transform="rotate(17 116.4 284.3)"/>
<rect x="179.5" y="258.9" width="2.5" height="1.6" fill="#d8e848" opacity="0.66" transform="rotate(7 179.5 258.9)"/>
<rect x="157.2" y="262.5" width="5.0" height="2.1" fill="#a8c038" opacity="0.60" transform="rotate(139 157.2 262.5)"/>
<rect x="159.3" y="251.2" width="2.6" height="1.5" fill="#a8c038" opacity="0.67" transform="rotate(124 159.3 251.2)"/>
<rect x="118.1" y="273.6" width="3.8" height="1.8" fill="#d8e848" opacity="0.56" transform="rotate(142 118.1 273.6)"/>
<rect x="156.5" y="274.4" width="2.9" height="2.1" fill="#e6f250" opacity="0.54" transform="rotate(100 156.5 274.4)"/>
<rect x="142.9" y="241.4" width="3.8" height="1.5" fill="#c4da40" opacity="0.86" transform="rotate(138 142.9 241.4)"/>
<rect x="144.6" y="289.7" width="2.4" height="2.6" fill="#c4da40" opacity="0.68" transform="rotate(178 144.6 289.7)"/>
<rect x="143.7" y="268.7" width="4.0" height="2.8" fill="#a8c038" opacity="0.67" transform="rotate(25 143.7 268.7)"/>
<rect x="134.2" y="260.9" width="4.8" height="1.9" fill="#c4da40" opacity="0.51" transform="rotate(83 134.2 260.9)"/>
<rect x="165.0" y="277.7" width="3.6" height="1.3" fill="#e6f250" opacity="0.53" transform="rotate(165 165.0 277.7)"/>
<rect x="136.5" y="270.3" width="4.5" height="1.8" fill="#e6f250" opacity="0.56" transform="rotate(161 136.5 270.3)"/>
<rect x="151.2" y="251.3" width="3.6" height="1.4" fill="#c4da40" opacity="0.53" transform="rotate(6 151.2 251.3)"/>
<rect x="152.9" y="289.1" width="4.2" height="2.0" fill="#d8e848" opacity="0.81" transform="rotate(107 152.9 289.1)"/>
<rect x="171.9" y="264.1" width="2.1" height="2.3" fill="#e6f250" opacity="0.63" transform="rotate(21 171.9 264.1)"/>
<rect x="130.8" y="280.4" width="3.7" height="1.9" fill="#c4da40" opacity="0.47" transform="rotate(116 130.8 280.4)"/>
<rect x="136.3" y="291.5" width="2.3" height="1.9" fill="#a8c038" opacity="0.86" transform="rotate(161 136.3 291.5)"/>
<rect x="138.5" y="251.7" width="5.0" height="2.9" fill="#a8c038" opacity="0.63" transform="rotate(154 138.5 251.7)"/>
<rect x="163.1" y="261.4" width="4.8" height="1.9" fill="#d8e848" opacity="0.64" transform="rotate(94 163.1 261.4)"/>
<rect x="150.2" y="272.4" width="4.2" height="3.0" fill="#e6f250" opacity="0.72" transform="rotate(132 150.2 272.4)"/>
<rect x="164.3" y="230.8" width="2.7" height="2.9" fill="#d8e848" opacity="0.84" transform="rotate(44 164.3 230.8)"/>
<rect x="139.5" y="276.5" width="4.7" height="2.3" fill="#d8e848" opacity="0.87" transform="rotate(118 139.5 276.5)"/>
<rect x="180.8" y="237.5" width="4.6" height="1.9" fill="#c4da40" opacity="0.70" transform="rotate(98 180.8 237.5)"/>
<rect x="170.2" y="276.4" width="3.7" height="3.0" fill="#d8e848" opacity="0.81" transform="rotate(18 170.2 276.4)"/>
<rect x="161.5" y="237.3" width="3.4" height="1.8" fill="#c4da40" opacity="0.46" transform="rotate(131 161.5 237.3)"/>
<rect x="187.7" y="243.8" width="4.4" height="2.0" fill="#d8e848" opacity="0.71" transform="rotate(64 187.7 243.8)"/>
<rect x="152.6" y="284.7" width="2.9" height="1.8" fill="#a8c038" opacity="0.80" transform="rotate(26 152.6 284.7)"/>
<rect x="156.5" y="248.7" width="4.6" height="2.6" fill="#e6f250" opacity="0.59" transform="rotate(11 156.5 248.7)"/>
<rect x="152.5" y="260.5" width="3.9" height="2.6" fill="#c4da40" opacity="0.69" transform="rotate(101 152.5 260.5)"/>
<rect x="177.2" y="270.9" width="2.2" height="1.4" fill="#e6f250" opacity="0.59" transform="rotate(131 177.2 270.9)"/>
<rect x="160.3" y="234.8" width="2.4" height="2.6" fill="#d8e848" opacity="0.65" transform="rotate(169 160.3 234.8)"/>
<rect x="180.2" y="266.0" width="2.4" height="2.6" fill="#e6f250" opacity="0.77" transform="rotate(48 180.2 266.0)"/>
<rect x="145.6" y="249.0" width="4.0" height="3.0" fill="#e6f250" opacity="0.55" transform="rotate(106 145.6 249.0)"/>
<rect x="157.8" y="249.4" width="2.7" height="1.5" fill="#d8e848" opacity="0.66" transform="rotate(120 157.8 249.4)"/>
<rect x="130.4" y="292.1" width="3.6" height="1.3" fill="#e6f250" opacity="0.58" transform="rotate(108 130.4 292.1)"/>
<rect x="132.1" y="293.4" width="2.5" height="3.2" fill="#d8e848" opacity="0.53" transform="rotate(34 132.1 293.4)"/>
<rect x="178.3" y="269.8" width="5.0" height="1.3" fill="#a8c038" opacity="0.79" transform="rotate(83 178.3 269.8)"/>
<rect x="184.3" y="235.0" width="2.2" height="1.3" fill="#e6f250" opacity="0.86" transform="rotate(140 184.3 235.0)"/>
<rect x="120.2" y="266.7" width="3.6" height="2.2" fill="#c4da40" opacity="0.76" transform="rotate(152 120.2 266.7)"/>
<rect x="115.6" y="279.5" width="2.3" height="2.1" fill="#e6f250" opacity="0.70" transform="rotate(120 115.6 279.5)"/>
<rect x="142.6" y="242.2" width="2.7" height="2.2" fill="#a8c038" opacity="0.71" transform="rotate(40 142.6 242.2)"/>
<rect x="156.7" y="274.7" width="4.9" height="1.3" fill="#e6f250" opacity="0.85" transform="rotate(81 156.7 274.7)"/>
<rect x="154.8" y="264.7" width="3.5" height="2.1" fill="#d8e848" opacity="0.57" transform="rotate(80 154.8 264.7)"/>
<rect x="188.0" y="245.5" width="3.7" height="2.3" fill="#c4da40" opacity="0.56" transform="rotate(142 188.0 245.5)"/>
<rect x="176.0" y="249.4" width="4.1" height="2.8" fill="#a8c038" opacity="0.80" transform="rotate(133 176.0 249.4)"/>
<rect x="186.0" y="249.4" width="2.5" height="1.7" fill="#a8c038" opacity="0.76" transform="rotate(29 186.0 249.4)"/>
<rect x="175.6" y="250.5" width="3.1" height="1.6" fill="#a8c038" opacity="0.47" transform="rotate(175 175.6 250.5)"/>
<rect x="137.8" y="249.6" width="2.4" height="2.7" fill="#d8e848" opacity="0.89" transform="rotate(94 137.8 249.6)"/>
<rect x="168.3" y="281.3" width="2.4" height="2.0" fill="#d8e848" opacity="0.64" transform="rotate(54 168.3 281.3)"/>
<rect x="176.8" y="236.2" width="4.2" height="3.2" fill="#d8e848" opacity="0.58" transform="rotate(110 176.8 236.2)"/>
<rect x="130.7" y="277.2" width="3.4" height="3.1" fill="#c4da40" opacity="0.60" transform="rotate(66 130.7 277.2)"/>
<rect x="174.9" y="248.3" width="3.9" height="1.3" fill="#c4da40" opacity="0.76" transform="rotate(62 174.9 248.3)"/>
<rect x="130.8" y="287.7" width="4.5" height="2.0" fill="#e6f250" opacity="0.55" transform="rotate(141 130.8 287.7)"/>
<rect x="166.1" y="281.5" width="4.4" height="2.2" fill="#e6f250" opacity="0.72" transform="rotate(72 166.1 281.5)"/>
<rect x="127.5" y="289.7" width="3.9" height="1.6" fill="#a8c038" opacity="0.69" transform="rotate(88 127.5 289.7)"/>
<rect x="183.2" y="248.0" width="3.1" height="1.7" fill="#e6f250" opacity="0.53" transform="rotate(3 183.2 248.0)"/>
<rect x="122.2" y="288.4" width="3.9" height="1.6" fill="#e6f250" opacity="0.48" transform="rotate(19 122.2 288.4)"/>
<rect x="168.0" y="261.9" width="4.5" height="1.4" fill="#a8c038" opacity="0.83" transform="rotate(180 168.0 261.9)"/>
<rect x="187.4" y="247.8" width="3.0" height="2.7" fill="#a8c038" opacity="0.47" transform="rotate(93 187.4 247.8)"/>
<rect x="123.1" y="274.4" width="2.6" height="2.2" fill="#a8c038" opacity="0.54" transform="rotate(23 123.1 274.4)"/>
<rect x="132.4" y="292.8" width="2.4" height="2.6" fill="#a8c038" opacity="0.78" transform="rotate(47 132.4 292.8)"/>
<rect x="166.1" y="263.2" width="2.8" height="2.6" fill="#e6f250" opacity="0.62" transform="rotate(73 166.1 263.2)"/>
<rect x="162.2" y="272.7" width="3.0" height="1.6" fill="#a8c038" opacity="0.46" transform="rotate(7 162.2 272.7)"/>
<rect x="114.4" y="284.9" width="4.9" height="1.8" fill="#c4da40" opacity="0.86" transform="rotate(121 114.4 284.9)"/>
<rect x="126.6" y="279.1" width="2.4" height="2.7" fill="#e6f250" opacity="0.80" transform="rotate(67 126.6 279.1)"/>
<rect x="176.0" y="254.0" width="3.2" height="1.3" fill="#a8c038" opacity="0.60" transform="rotate(69 176.0 254.0)"/>
<rect x="137.6" y="261.0" width="4.8" height="1.6" fill="#c4da40" opacity="0.61" transform="rotate(138 137.6 261.0)"/>
<rect x="117.6" y="290.7" width="4.7" height="2.8" fill="#e6f250" opacity="0.57" transform="rotate(86 117.6 290.7)"/>
<rect x="146.0" y="263.9" width="3.2" height="1.9" fill="#d8e848" opacity="0.63" transform="rotate(11 146.0 263.9)"/>
<rect x="137.5" y="298.7" width="2.9" height="2.6" fill="#d8e848" opacity="0.48" transform="rotate(159 137.5 298.7)"/>
<rect x="144.0" y="297.4" width="3.7" height="1.7" fill="#a8c038" opacity="0.53" transform="rotate(120 144.0 297.4)"/>
<rect x="141.1" y="286.7" width="4.7" height="1.3" fill="#d8e848" opacity="0.55" transform="rotate(127 141.1 286.7)"/>
<rect x="120.8" y="272.2" width="3.2" height="2.0" fill="#a8c038" opacity="0.82" transform="rotate(50 120.8 272.2)"/>
<rect x="136.0" y="300.1" width="2.1" height="1.5" fill="#e6f250" opacity="0.59" transform="rotate(91 136.0 300.1)"/>
<rect x="145.4" y="270.3" width="3.8" height="1.7" fill="#d8e848" opacity="0.55" transform="rotate(46 145.4 270.3)"/>
<rect x="174.4" y="228.2" width="2.0" height="2.3" fill="#d8e848" opacity="0.79" transform="rotate(153 174.4 228.2)"/>
<rect x="122.1" y="272.3" width="4.5" height="3.1" fill="#d8e848" opacity="0.61" transform="rotate(60 122.1 272.3)"/>
<rect x="151.7" y="290.6" width="4.1" height="2.6" fill="#c4da40" opacity="0.82" transform="rotate(174 151.7 290.6)"/>
<rect x="147.6" y="292.2" width="4.4" height="1.8" fill="#a8c038" opacity="0.62" transform="rotate(75 147.6 292.2)"/>
<rect x="160.1" y="273.3" width="3.0" height="1.6" fill="#d8e848" opacity="0.51" transform="rotate(92 160.1 273.3)"/>
<rect x="181.5" y="234.8" width="4.7" height="1.8" fill="#a8c038" opacity="0.68" transform="rotate(153 181.5 234.8)"/>
<rect x="180.9" y="244.3" width="3.2" height="2.2" fill="#a8c038" opacity="0.63" transform="rotate(62 180.9 244.3)"/>
<rect x="163.3" y="280.8" width="3.1" height="2.6" fill="#c4da40" opacity="0.84" transform="rotate(33 163.3 280.8)"/>
<rect x="155.1" y="234.5" width="3.7" height="2.0" fill="#e6f250" opacity="0.73" transform="rotate(127 155.1 234.5)"/>
<rect x="148.4" y="255.2" width="3.1" height="2.5" fill="#d8e848" opacity="0.53" transform="rotate(42 148.4 255.2)"/>
<rect x="123.2" y="294.5" width="4.4" height="3.1" fill="#e6f250" opacity="0.57" transform="rotate(48 123.2 294.5)"/>
<rect x="126.9" y="270.2" width="4.8" height="3.2" fill="#d8e848" opacity="0.77" transform="rotate(9 126.9 270.2)"/>
<rect x="155.6" y="249.3" width="3.1" height="2.3" fill="#d8e848" opacity="0.63" transform="rotate(144 155.6 249.3)"/>
<rect x="152.9" y="235.1" width="2.5" height="1.3" fill="#e6f250" opacity="0.84" transform="rotate(79 152.9 235.1)"/>
<rect x="169.5" y="276.6" width="3.2" height="1.5" fill="#c4da40" opacity="0.75" transform="rotate(104 169.5 276.6)"/>
<rect x="115.0" y="288.0" width="2.4" height="1.6" fill="#e6f250" opacity="0.87" transform="rotate(19 115.0 288.0)"/>
<rect x="159.7" y="241.1" width="2.5" height="3.0" fill="#e6f250" opacity="0.71" transform="rotate(49 159.7 241.1)"/>
<rect x="130.6" y="270.1" width="2.7" height="2.2" fill="#d8e848" opacity="0.57" transform="rotate(66 130.6 270.1)"/>
<rect x="153.1" y="264.9" width="4.3" height="2.5" fill="#c4da40" opacity="0.60" transform="rotate(1 153.1 264.9)"/>
</g>
<path d="M107.0 286.5 L107.1 284.6 L107.4 282.6 L107.9 280.6 L108.4 278.5 L109.1 276.4 L109.8 274.3 L110.7 272.1 L111.8 270.0 L112.9 267.8 L114.1 265.6 L115.5 263.4 L116.9 261.2 L118.5 259.0 L120.1 256.8 L121.8 254.7 L123.6 252.5 L125.5 250.5 L127.5 248.4 L129.5 246.4 L131.6 244.5 L133.7 242.6 L135.9 240.8 L138.1 239.1 L140.4 237.5 L142.7 235.9 L145.0 234.4 L147.3 233.0 L149.6 231.7 L152.0 230.5 L154.3 229.4 L156.6 228.4 L158.9 227.5 L161.2 226.7 L163.5 226.0 L165.7 225.5 L167.8 225.0 L169.9 224.7 L172.0 224.5 L174.0 224.4 L175.9 224.5" stroke="#e4f040" stroke-width="2.6" fill="none" opacity="0.85" stroke-linecap="round" filter="url(#soft)"/>
<path d="M150 269 L166 279 M147 275 L163 286" stroke="#c9d0dc" stroke-width="4.5" stroke-linecap="round" opacity="0.9"/>
<path d="M150 269 L166 279 M147 275 L163 286" stroke="#f4f6f8" stroke-width="1.6" stroke-linecap="round"/>
<g transform="rotate(-55 447.6 222.8)">
<ellipse cx="447.6" cy="222.8" rx="55.2" ry="29" fill="url(#treadU)" stroke="#2e320a" stroke-width="1"/>
</g>
<clipPath id="clipPA"><ellipse cx="435.3" cy="214.2" rx="54.2" ry="14.0" transform="rotate(-55 435.3 214.2)"/></clipPath>
<ellipse cx="435.3" cy="214.2" rx="54.2" ry="14.0" transform="rotate(-55 435.3 214.2)" fill="url(#face)"/>
<g clip-path="url(#clipPA)">
<circle cx="434" cy="208" r="30" fill="url(#yglow)"/>
<rect x="448.1" y="195.8" width="4.6" height="2.2" fill="#a8c038" opacity="0.81" transform="rotate(75 448.1 195.8)"/>
<rect x="421.2" y="230.7" width="3.9" height="2.9" fill="#e6f250" opacity="0.53" transform="rotate(45 421.2 230.7)"/>
<rect x="446.2" y="181.8" width="3.3" height="2.9" fill="#d8e848" opacity="0.53" transform="rotate(130 446.2 181.8)"/>
<rect x="452.4" y="184.2" width="4.0" height="1.7" fill="#d8e848" opacity="0.70" transform="rotate(4 452.4 184.2)"/>
<rect x="432.3" y="218.3" width="2.6" height="3.1" fill="#c4da40" opacity="0.69" transform="rotate(2 432.3 218.3)"/>
<rect x="433.0" y="198.9" width="3.2" height="2.8" fill="#d8e848" opacity="0.80" transform="rotate(149 433.0 198.9)"/>
<rect x="450.7" y="186.1" width="4.5" height="2.0" fill="#d8e848" opacity="0.73" transform="rotate(162 450.7 186.1)"/>
<rect x="420.9" y="229.8" width="3.2" height="1.9" fill="#e6f250" opacity="0.81" transform="rotate(118 420.9 229.8)"/>
<rect x="416.8" y="229.8" width="2.9" height="1.3" fill="#e6f250" opacity="0.72" transform="rotate(118 416.8 229.8)"/>
<rect x="430.6" y="237.5" width="2.6" height="2.7" fill="#c4da40" opacity="0.76" transform="rotate(98 430.6 237.5)"/>
<rect x="432.2" y="225.8" width="3.1" height="1.6" fill="#d8e848" opacity="0.63" transform="rotate(4 432.2 225.8)"/>
<rect x="425.4" y="235.6" width="3.6" height="3.1" fill="#e6f250" opacity="0.85" transform="rotate(37 425.4 235.6)"/>
<rect x="458.7" y="187.8" width="3.7" height="1.8" fill="#a8c038" opacity="0.87" transform="rotate(85 458.7 187.8)"/>
<rect x="420.0" y="246.4" width="2.5" height="1.7" fill="#e6f250" opacity="0.88" transform="rotate(122 420.0 246.4)"/>
<rect x="447.6" y="183.3" width="3.6" height="1.2" fill="#d8e848" opacity="0.75" transform="rotate(131 447.6 183.3)"/>
<rect x="448.6" y="212.3" width="4.7" height="2.9" fill="#d8e848" opacity="0.68" transform="rotate(113 448.6 212.3)"/>
<rect x="459.3" y="193.2" width="4.2" height="2.1" fill="#c4da40" opacity="0.83" transform="rotate(84 459.3 193.2)"/>
<rect x="425.9" y="239.3" width="2.1" height="3.0" fill="#e6f250" opacity="0.65" transform="rotate(95 425.9 239.3)"/>
<rect x="412.4" y="237.3" width="4.8" height="1.5" fill="#e6f250" opacity="0.90" transform="rotate(84 412.4 237.3)"/>
<rect x="449.4" y="208.3" width="3.7" height="1.3" fill="#a8c038" opacity="0.79" transform="rotate(174 449.4 208.3)"/>
<rect x="447.7" y="202.7" width="4.8" height="2.8" fill="#d8e848" opacity="0.50" transform="rotate(26 447.7 202.7)"/>
<rect x="406.1" y="254.3" width="2.2" height="2.9" fill="#e6f250" opacity="0.56" transform="rotate(128 406.1 254.3)"/>
<rect x="417.4" y="244.4" width="4.6" height="1.6" fill="#d8e848" opacity="0.74" transform="rotate(50 417.4 244.4)"/>
<rect x="454.5" y="196.1" width="4.3" height="3.0" fill="#d8e848" opacity="0.67" transform="rotate(13 454.5 196.1)"/>
<rect x="430.3" y="204.8" width="4.7" height="2.8" fill="#d8e848" opacity="0.61" transform="rotate(27 430.3 204.8)"/>
<rect x="430.3" y="240.1" width="4.9" height="1.6" fill="#a8c038" opacity="0.64" transform="rotate(52 430.3 240.1)"/>
<rect x="460.2" y="182.3" width="3.4" height="2.2" fill="#e6f250" opacity="0.74" transform="rotate(16 460.2 182.3)"/>
<rect x="446.4" y="184.9" width="2.6" height="2.5" fill="#e6f250" opacity="0.46" transform="rotate(78 446.4 184.9)"/>
<rect x="417.9" y="219.4" width="4.8" height="2.5" fill="#c4da40" opacity="0.54" transform="rotate(38 417.9 219.4)"/>
<rect x="452.7" y="204.4" width="2.1" height="1.8" fill="#e6f250" opacity="0.60" transform="rotate(47 452.7 204.4)"/>
<rect x="435.3" y="216.1" width="2.2" height="1.6" fill="#a8c038" opacity="0.84" transform="rotate(129 435.3 216.1)"/>
<rect x="440.3" y="212.7" width="2.8" height="1.9" fill="#c4da40" opacity="0.58" transform="rotate(110 440.3 212.7)"/>
<rect x="407.2" y="253.5" width="3.0" height="2.6" fill="#e6f250" opacity="0.71" transform="rotate(42 407.2 253.5)"/>
<rect x="461.4" y="191.7" width="4.9" height="1.4" fill="#a8c038" opacity="0.55" transform="rotate(117 461.4 191.7)"/>
<rect x="422.5" y="245.1" width="3.8" height="2.1" fill="#e6f250" opacity="0.64" transform="rotate(12 422.5 245.1)"/>
<rect x="411.0" y="239.8" width="2.8" height="2.5" fill="#d8e848" opacity="0.72" transform="rotate(2 411.0 239.8)"/>
<rect x="428.5" y="228.2" width="4.7" height="1.7" fill="#d8e848" opacity="0.60" transform="rotate(76 428.5 228.2)"/>
<rect x="425.7" y="225.9" width="4.7" height="1.4" fill="#e6f250" opacity="0.62" transform="rotate(65 425.7 225.9)"/>
<rect x="460.5" y="177.0" width="4.6" height="2.5" fill="#c4da40" opacity="0.48" transform="rotate(28 460.5 177.0)"/>
<rect x="420.9" y="237.5" width="4.0" height="2.4" fill="#a8c038" opacity="0.89" transform="rotate(175 420.9 237.5)"/>
<rect x="424.8" y="233.5" width="3.6" height="1.4" fill="#a8c038" opacity="0.90" transform="rotate(10 424.8 233.5)"/>
<rect x="432.4" y="197.4" width="3.6" height="2.4" fill="#a8c038" opacity="0.82" transform="rotate(90 432.4 197.4)"/>
<rect x="461.6" y="187.9" width="2.0" height="3.1" fill="#e6f250" opacity="0.80" transform="rotate(125 461.6 187.9)"/>
<rect x="411.8" y="228.8" width="3.4" height="3.0" fill="#e6f250" opacity="0.52" transform="rotate(78 411.8 228.8)"/>
<rect x="445.1" y="183.4" width="4.7" height="1.2" fill="#d8e848" opacity="0.69" transform="rotate(63 445.1 183.4)"/>
<rect x="433.6" y="209.9" width="5.0" height="2.3" fill="#d8e848" opacity="0.56" transform="rotate(12 433.6 209.9)"/>
<rect x="419.1" y="236.6" width="3.1" height="1.7" fill="#c4da40" opacity="0.66" transform="rotate(106 419.1 236.6)"/>
<rect x="423.0" y="226.9" width="2.3" height="1.5" fill="#c4da40" opacity="0.81" transform="rotate(162 423.0 226.9)"/>
<rect x="454.8" y="199.6" width="2.5" height="2.4" fill="#d8e848" opacity="0.77" transform="rotate(173 454.8 199.6)"/>
<rect x="433.3" y="218.2" width="2.5" height="2.8" fill="#c4da40" opacity="0.77" transform="rotate(132 433.3 218.2)"/>
<rect x="437.1" y="228.6" width="3.2" height="2.2" fill="#d8e848" opacity="0.69" transform="rotate(164 437.1 228.6)"/>
<rect x="427.0" y="234.0" width="2.6" height="2.3" fill="#a8c038" opacity="0.64" transform="rotate(118 427.0 234.0)"/>
<rect x="453.6" y="209.6" width="3.7" height="1.5" fill="#d8e848" opacity="0.87" transform="rotate(177 453.6 209.6)"/>
<rect x="426.5" y="234.3" width="4.2" height="1.7" fill="#a8c038" opacity="0.64" transform="rotate(66 426.5 234.3)"/>
<rect x="423.7" y="242.8" width="3.0" height="1.4" fill="#c4da40" opacity="0.69" transform="rotate(56 423.7 242.8)"/>
<rect x="413.1" y="243.0" width="3.2" height="1.6" fill="#e6f250" opacity="0.62" transform="rotate(18 413.1 243.0)"/>
<rect x="425.5" y="245.1" width="3.6" height="2.3" fill="#d8e848" opacity="0.62" transform="rotate(132 425.5 245.1)"/>
<rect x="457.7" y="183.0" width="4.9" height="1.9" fill="#e6f250" opacity="0.62" transform="rotate(108 457.7 183.0)"/>
<rect x="450.5" y="211.5" width="2.2" height="1.6" fill="#e6f250" opacity="0.79" transform="rotate(21 450.5 211.5)"/>
<rect x="444.6" y="203.2" width="2.8" height="1.7" fill="#e6f250" opacity="0.64" transform="rotate(143 444.6 203.2)"/>
<rect x="426.1" y="234.3" width="4.0" height="1.4" fill="#e6f250" opacity="0.82" transform="rotate(177 426.1 234.3)"/>
<rect x="447.0" y="199.3" width="2.5" height="1.8" fill="#a8c038" opacity="0.90" transform="rotate(51 447.0 199.3)"/>
<rect x="459.4" y="185.1" width="3.7" height="3.1" fill="#c4da40" opacity="0.46" transform="rotate(115 459.4 185.1)"/>
<rect x="433.1" y="216.6" width="4.2" height="2.0" fill="#d8e848" opacity="0.89" transform="rotate(122 433.1 216.6)"/>
<rect x="441.9" y="210.6" width="4.1" height="1.5" fill="#d8e848" opacity="0.75" transform="rotate(136 441.9 210.6)"/>
<rect x="413.2" y="253.0" width="4.2" height="2.9" fill="#d8e848" opacity="0.61" transform="rotate(172 413.2 253.0)"/>
<rect x="423.7" y="217.2" width="4.1" height="2.5" fill="#d8e848" opacity="0.84" transform="rotate(20 423.7 217.2)"/>
<rect x="421.2" y="242.7" width="4.5" height="1.4" fill="#d8e848" opacity="0.66" transform="rotate(157 421.2 242.7)"/>
<rect x="451.1" y="178.5" width="2.6" height="2.6" fill="#a8c038" opacity="0.65" transform="rotate(89 451.1 178.5)"/>
<rect x="415.0" y="242.1" width="3.6" height="2.9" fill="#d8e848" opacity="0.60" transform="rotate(139 415.0 242.1)"/>
<rect x="432.2" y="226.1" width="3.0" height="2.4" fill="#a8c038" opacity="0.62" transform="rotate(94 432.2 226.1)"/>
<rect x="427.8" y="238.2" width="3.4" height="3.2" fill="#c4da40" opacity="0.76" transform="rotate(59 427.8 238.2)"/>
<rect x="419.3" y="227.3" width="3.2" height="1.3" fill="#e6f250" opacity="0.81" transform="rotate(166 419.3 227.3)"/>
<rect x="424.1" y="243.4" width="3.3" height="2.4" fill="#a8c038" opacity="0.89" transform="rotate(101 424.1 243.4)"/>
<rect x="430.3" y="226.5" width="2.6" height="2.4" fill="#c4da40" opacity="0.68" transform="rotate(122 430.3 226.5)"/>
<rect x="460.6" y="182.2" width="3.7" height="2.3" fill="#e6f250" opacity="0.52" transform="rotate(60 460.6 182.2)"/>
<rect x="435.3" y="207.6" width="4.4" height="1.6" fill="#e6f250" opacity="0.69" transform="rotate(36 435.3 207.6)"/>
<rect x="459.8" y="192.7" width="3.7" height="3.0" fill="#e6f250" opacity="0.76" transform="rotate(166 459.8 192.7)"/>
<rect x="460.9" y="190.3" width="4.4" height="2.4" fill="#d8e848" opacity="0.89" transform="rotate(150 460.9 190.3)"/>
<rect x="436.8" y="215.2" width="3.6" height="1.7" fill="#c4da40" opacity="0.56" transform="rotate(53 436.8 215.2)"/>
<rect x="437.6" y="217.1" width="2.1" height="2.8" fill="#a8c038" opacity="0.52" transform="rotate(170 437.6 217.1)"/>
<rect x="457.8" y="199.7" width="4.6" height="2.4" fill="#e6f250" opacity="0.78" transform="rotate(98 457.8 199.7)"/>
<rect x="435.3" y="228.0" width="4.3" height="2.5" fill="#e6f250" opacity="0.67" transform="rotate(98 435.3 228.0)"/>
<rect x="431.8" y="227.8" width="3.9" height="1.7" fill="#d8e848" opacity="0.85" transform="rotate(131 431.8 227.8)"/>
<rect x="443.3" y="200.5" width="4.8" height="2.5" fill="#d8e848" opacity="0.86" transform="rotate(13 443.3 200.5)"/>
<rect x="456.7" y="174.7" width="2.6" height="1.9" fill="#d8e848" opacity="0.51" transform="rotate(64 456.7 174.7)"/>
<rect x="452.2" y="201.2" width="2.4" height="3.0" fill="#d8e848" opacity="0.89" transform="rotate(175 452.2 201.2)"/>
<rect x="416.9" y="247.6" width="2.3" height="2.6" fill="#d8e848" opacity="0.87" transform="rotate(110 416.9 247.6)"/>
<rect x="421.7" y="241.5" width="2.2" height="2.2" fill="#d8e848" opacity="0.89" transform="rotate(100 421.7 241.5)"/>
<rect x="450.0" y="202.4" width="3.0" height="2.6" fill="#c4da40" opacity="0.89" transform="rotate(169 450.0 202.4)"/>
<rect x="444.8" y="183.7" width="2.1" height="2.2" fill="#e6f250" opacity="0.76" transform="rotate(106 444.8 183.7)"/>
<rect x="441.7" y="202.3" width="3.6" height="3.1" fill="#e6f250" opacity="0.50" transform="rotate(6 441.7 202.3)"/>
<rect x="439.2" y="207.8" width="2.1" height="2.9" fill="#d8e848" opacity="0.68" transform="rotate(124 439.2 207.8)"/>
<rect x="442.8" y="203.6" width="4.4" height="3.2" fill="#e6f250" opacity="0.63" transform="rotate(150 442.8 203.6)"/>
<rect x="445.2" y="213.8" width="4.7" height="1.7" fill="#e6f250" opacity="0.62" transform="rotate(9 445.2 213.8)"/>
<rect x="417.7" y="237.6" width="4.0" height="3.1" fill="#c4da40" opacity="0.54" transform="rotate(75 417.7 237.6)"/>
<rect x="442.2" y="219.9" width="4.4" height="1.9" fill="#e6f250" opacity="0.74" transform="rotate(43 442.2 219.9)"/>
<rect x="412.9" y="236.6" width="3.7" height="1.2" fill="#e6f250" opacity="0.48" transform="rotate(56 412.9 236.6)"/>
<rect x="429.7" y="212.1" width="2.1" height="1.7" fill="#c4da40" opacity="0.76" transform="rotate(17 429.7 212.1)"/>
<rect x="430.5" y="222.8" width="3.7" height="1.5" fill="#d8e848" opacity="0.48" transform="rotate(121 430.5 222.8)"/>
<rect x="452.7" y="188.6" width="2.4" height="2.8" fill="#c4da40" opacity="0.60" transform="rotate(141 452.7 188.6)"/>
<rect x="428.1" y="232.8" width="3.8" height="2.7" fill="#d8e848" opacity="0.82" transform="rotate(86 428.1 232.8)"/>
<rect x="440.8" y="207.6" width="4.9" height="2.0" fill="#c4da40" opacity="0.48" transform="rotate(29 440.8 207.6)"/>
<rect x="448.4" y="180.3" width="4.8" height="1.9" fill="#e6f250" opacity="0.51" transform="rotate(168 448.4 180.3)"/>
<rect x="445.6" y="196.2" width="2.4" height="2.6" fill="#a8c038" opacity="0.78" transform="rotate(159 445.6 196.2)"/>
<rect x="425.6" y="242.3" width="4.8" height="1.5" fill="#e6f250" opacity="0.89" transform="rotate(157 425.6 242.3)"/>
<rect x="427.5" y="218.3" width="3.0" height="2.4" fill="#a8c038" opacity="0.68" transform="rotate(49 427.5 218.3)"/>
<rect x="429.3" y="206.6" width="4.8" height="1.4" fill="#e6f250" opacity="0.48" transform="rotate(40 429.3 206.6)"/>
<rect x="461.1" y="174.1" width="4.0" height="1.6" fill="#d8e848" opacity="0.74" transform="rotate(174 461.1 174.1)"/>
<rect x="437.3" y="230.5" width="4.9" height="2.1" fill="#a8c038" opacity="0.83" transform="rotate(109 437.3 230.5)"/>
</g>
<path d="M468.1 178.8 L467.9 180.3 L467.5 182.0 L467.0 183.7 L466.4 185.6 L465.8 187.5 L465.0 189.5 L464.2 191.6 L463.2 193.7 L462.2 196.0 L461.2 198.2 L460.0 200.5 L458.8 202.9 L457.5 205.2 L456.1 207.6 L454.7 210.1 L453.2 212.5 L451.7 214.9 L450.1 217.4 L448.4 219.8 L446.8 222.2 L445.1 224.6 L443.4 227.0 L441.6 229.3 L439.8 231.6 L438.1 233.8 L436.3 236.0 L434.5 238.1 L432.7 240.1 L430.9 242.1 L429.1 243.9 L427.4 245.7 L425.7 247.4 L424.0 249.0 L422.3 250.5 L420.7 251.9 L419.1 253.2 L417.5 254.4 L416.0 255.4 L414.6 256.4 L413.2 257.2" stroke="#e4f040" stroke-width="2.6" fill="none" opacity="0.85" stroke-linecap="round" filter="url(#soft)"/>
<g transform="rotate(-49 274.1 383)">
<ellipse cx="274.1" cy="383" rx="62.7" ry="38.3" fill="url(#treadU)" stroke="#2e320a" stroke-width="1"/>
</g>
<clipPath id="clipPB"><ellipse cx="262.8" cy="373.2" rx="61.7" ry="23.299999999999997" transform="rotate(-49 262.8 373.2)"/></clipPath>
<ellipse cx="262.8" cy="373.2" rx="61.7" ry="23.299999999999997" transform="rotate(-49 262.8 373.2)" fill="url(#face)"/>
<g clip-path="url(#clipPB)">
<circle cx="256" cy="368" r="40" fill="url(#yglow)"/>
<rect x="278.2" y="358.5" width="3.4" height="2.6" fill="#d8e848" opacity="0.71" transform="rotate(79 278.2 358.5)"/>
<rect x="264.6" y="377.9" width="3.2" height="2.8" fill="#a8c038" opacity="0.46" transform="rotate(173 264.6 377.9)"/>
<rect x="259.9" y="354.5" width="4.0" height="2.1" fill="#e6f250" opacity="0.46" transform="rotate(33 259.9 354.5)"/>
<rect x="282.4" y="347.3" width="4.5" height="2.3" fill="#e6f250" opacity="0.56" transform="rotate(124 282.4 347.3)"/>
<rect x="275.2" y="369.6" width="3.7" height="2.4" fill="#e6f250" opacity="0.71" transform="rotate(77 275.2 369.6)"/>
<rect x="258.6" y="405.1" width="2.7" height="3.1" fill="#c4da40" opacity="0.85" transform="rotate(154 258.6 405.1)"/>
<rect x="237.8" y="406.7" width="4.8" height="2.7" fill="#a8c038" opacity="0.59" transform="rotate(168 237.8 406.7)"/>
<rect x="295.8" y="361.7" width="2.9" height="1.4" fill="#d8e848" opacity="0.61" transform="rotate(124 295.8 361.7)"/>
<rect x="227.3" y="414.5" width="3.5" height="2.0" fill="#e6f250" opacity="0.67" transform="rotate(0 227.3 414.5)"/>
<rect x="228.7" y="412.8" width="3.7" height="1.3" fill="#d8e848" opacity="0.74" transform="rotate(58 228.7 412.8)"/>
<rect x="227.3" y="389.0" width="2.8" height="2.1" fill="#c4da40" opacity="0.81" transform="rotate(15 227.3 389.0)"/>
<rect x="237.3" y="392.2" width="2.1" height="1.6" fill="#e6f250" opacity="0.50" transform="rotate(114 237.3 392.2)"/>
<rect x="223.4" y="407.7" width="3.5" height="2.2" fill="#e6f250" opacity="0.83" transform="rotate(52 223.4 407.7)"/>
<rect x="283.8" y="337.3" width="4.1" height="2.1" fill="#c4da40" opacity="0.75" transform="rotate(54 283.8 337.3)"/>
<rect x="236.3" y="376.8" width="4.1" height="2.8" fill="#a8c038" opacity="0.53" transform="rotate(144 236.3 376.8)"/>
<rect x="264.3" y="386.7" width="4.8" height="1.2" fill="#a8c038" opacity="0.60" transform="rotate(92 264.3 386.7)"/>
<rect x="284.7" y="337.2" width="2.2" height="2.5" fill="#a8c038" opacity="0.89" transform="rotate(20 284.7 337.2)"/>
<rect x="263.3" y="385.7" width="4.1" height="2.7" fill="#c4da40" opacity="0.73" transform="rotate(177 263.3 385.7)"/>
<rect x="249.4" y="361.9" width="3.3" height="2.0" fill="#d8e848" opacity="0.79" transform="rotate(71 249.4 361.9)"/>
<rect x="223.4" y="405.2" width="3.9" height="2.2" fill="#d8e848" opacity="0.61" transform="rotate(69 223.4 405.2)"/>
<rect x="274.7" y="344.0" width="4.9" height="1.7" fill="#c4da40" opacity="0.50" transform="rotate(111 274.7 344.0)"/>
<rect x="241.0" y="396.3" width="2.8" height="1.6" fill="#d8e848" opacity="0.76" transform="rotate(117 241.0 396.3)"/>
<rect x="259.0" y="405.0" width="4.7" height="1.8" fill="#a8c038" opacity="0.73" transform="rotate(171 259.0 405.0)"/>
<rect x="256.8" y="361.4" width="2.8" height="2.2" fill="#d8e848" opacity="0.47" transform="rotate(88 256.8 361.4)"/>
<rect x="233.5" y="411.6" width="2.7" height="1.6" fill="#e6f250" opacity="0.56" transform="rotate(105 233.5 411.6)"/>
<rect x="251.0" y="398.1" width="4.9" height="1.8" fill="#a8c038" opacity="0.84" transform="rotate(155 251.0 398.1)"/>
<rect x="285.6" y="377.5" width="4.4" height="3.0" fill="#a8c038" opacity="0.64" transform="rotate(14 285.6 377.5)"/>
<rect x="237.0" y="376.6" width="3.7" height="2.5" fill="#e6f250" opacity="0.86" transform="rotate(169 237.0 376.6)"/>
<rect x="236.7" y="392.2" width="2.0" height="1.4" fill="#c4da40" opacity="0.89" transform="rotate(33 236.7 392.2)"/>
<rect x="292.2" y="368.7" width="4.4" height="2.4" fill="#d8e848" opacity="0.57" transform="rotate(168 292.2 368.7)"/>
<rect x="245.4" y="371.9" width="3.3" height="1.4" fill="#d8e848" opacity="0.88" transform="rotate(85 245.4 371.9)"/>
<rect x="260.9" y="374.8" width="3.4" height="2.4" fill="#a8c038" opacity="0.90" transform="rotate(156 260.9 374.8)"/>
<rect x="227.8" y="400.9" width="3.2" height="2.5" fill="#d8e848" opacity="0.73" transform="rotate(123 227.8 400.9)"/>
<rect x="293.0" y="351.2" width="2.7" height="2.3" fill="#a8c038" opacity="0.62" transform="rotate(72 293.0 351.2)"/>
<rect x="246.6" y="366.3" width="2.6" height="1.7" fill="#e6f250" opacity="0.89" transform="rotate(133 246.6 366.3)"/>
<rect x="283.6" y="337.5" width="3.0" height="1.2" fill="#a8c038" opacity="0.77" transform="rotate(150 283.6 337.5)"/>
<rect x="245.4" y="362.8" width="2.6" height="1.3" fill="#c4da40" opacity="0.57" transform="rotate(17 245.4 362.8)"/>
<rect x="254.4" y="398.9" width="3.4" height="1.8" fill="#e6f250" opacity="0.64" transform="rotate(112 254.4 398.9)"/>
<rect x="251.4" y="379.5" width="4.2" height="2.5" fill="#a8c038" opacity="0.75" transform="rotate(99 251.4 379.5)"/>
<rect x="267.6" y="361.8" width="2.7" height="1.7" fill="#a8c038" opacity="0.72" transform="rotate(109 267.6 361.8)"/>
<rect x="240.3" y="409.5" width="2.7" height="2.7" fill="#e6f250" opacity="0.89" transform="rotate(97 240.3 409.5)"/>
<rect x="237.4" y="394.5" width="4.5" height="1.9" fill="#a8c038" opacity="0.49" transform="rotate(77 237.4 394.5)"/>
<rect x="277.1" y="377.0" width="5.0" height="1.6" fill="#d8e848" opacity="0.48" transform="rotate(164 277.1 377.0)"/>
<rect x="264.2" y="344.6" width="3.2" height="2.4" fill="#e6f250" opacity="0.79" transform="rotate(128 264.2 344.6)"/>
<rect x="242.5" y="388.7" width="4.1" height="2.3" fill="#c4da40" opacity="0.89" transform="rotate(98 242.5 388.7)"/>
<rect x="250.9" y="361.8" width="4.4" height="2.2" fill="#e6f250" opacity="0.79" transform="rotate(4 250.9 361.8)"/>
<rect x="235.0" y="401.1" width="2.5" height="2.5" fill="#e6f250" opacity="0.75" transform="rotate(161 235.0 401.1)"/>
<rect x="284.4" y="330.5" width="4.0" height="1.4" fill="#a8c038" opacity="0.66" transform="rotate(9 284.4 330.5)"/>
<rect x="223.1" y="405.3" width="3.1" height="2.7" fill="#c4da40" opacity="0.59" transform="rotate(14 223.1 405.3)"/>
<rect x="236.6" y="375.6" width="3.1" height="1.7" fill="#d8e848" opacity="0.69" transform="rotate(65 236.6 375.6)"/>
<rect x="237.5" y="397.2" width="3.2" height="2.8" fill="#c4da40" opacity="0.83" transform="rotate(113 237.5 397.2)"/>
<rect x="266.9" y="373.5" width="4.7" height="2.5" fill="#d8e848" opacity="0.54" transform="rotate(5 266.9 373.5)"/>
<rect x="232.7" y="409.6" width="2.1" height="2.8" fill="#e6f250" opacity="0.55" transform="rotate(155 232.7 409.6)"/>
<rect x="247.1" y="373.2" width="4.6" height="1.6" fill="#a8c038" opacity="0.59" transform="rotate(85 247.1 373.2)"/>
<rect x="284.4" y="333.9" width="2.8" height="2.2" fill="#e6f250" opacity="0.70" transform="rotate(65 284.4 333.9)"/>
<rect x="297.1" y="359.7" width="3.0" height="2.1" fill="#c4da40" opacity="0.82" transform="rotate(78 297.1 359.7)"/>
<rect x="236.3" y="407.8" width="3.0" height="2.7" fill="#a8c038" opacity="0.83" transform="rotate(57 236.3 407.8)"/>
<rect x="256.9" y="391.7" width="4.2" height="1.3" fill="#d8e848" opacity="0.48" transform="rotate(125 256.9 391.7)"/>
<rect x="271.2" y="367.4" width="3.1" height="3.2" fill="#d8e848" opacity="0.84" transform="rotate(108 271.2 367.4)"/>
<rect x="259.1" y="357.0" width="4.7" height="2.4" fill="#c4da40" opacity="0.47" transform="rotate(100 259.1 357.0)"/>
<rect x="247.0" y="373.8" width="3.4" height="1.8" fill="#e6f250" opacity="0.61" transform="rotate(101 247.0 373.8)"/>
<rect x="298.9" y="332.3" width="2.9" height="1.2" fill="#c4da40" opacity="0.64" transform="rotate(66 298.9 332.3)"/>
<rect x="266.7" y="379.5" width="4.5" height="2.1" fill="#a8c038" opacity="0.59" transform="rotate(92 266.7 379.5)"/>
<rect x="242.7" y="374.6" width="3.2" height="2.0" fill="#c4da40" opacity="0.66" transform="rotate(91 242.7 374.6)"/>
<rect x="266.9" y="385.7" width="3.2" height="2.5" fill="#c4da40" opacity="0.66" transform="rotate(7 266.9 385.7)"/>
<rect x="250.2" y="410.8" width="3.7" height="2.1" fill="#d8e848" opacity="0.87" transform="rotate(67 250.2 410.8)"/>
<rect x="247.9" y="404.9" width="4.6" height="3.2" fill="#d8e848" opacity="0.83" transform="rotate(165 247.9 404.9)"/>
<rect x="291.3" y="355.5" width="3.0" height="2.1" fill="#e6f250" opacity="0.47" transform="rotate(100 291.3 355.5)"/>
<rect x="224.2" y="414.1" width="2.2" height="3.2" fill="#a8c038" opacity="0.52" transform="rotate(2 224.2 414.1)"/>
<rect x="242.0" y="369.4" width="3.3" height="3.2" fill="#d8e848" opacity="0.72" transform="rotate(161 242.0 369.4)"/>
<rect x="246.0" y="385.8" width="3.4" height="3.0" fill="#a8c038" opacity="0.55" transform="rotate(121 246.0 385.8)"/>
<rect x="231.5" y="385.0" width="5.0" height="3.0" fill="#c4da40" opacity="0.46" transform="rotate(111 231.5 385.0)"/>
<rect x="243.4" y="385.7" width="2.9" height="1.6" fill="#c4da40" opacity="0.69" transform="rotate(160 243.4 385.7)"/>
<rect x="274.8" y="388.8" width="4.2" height="2.7" fill="#c4da40" opacity="0.47" transform="rotate(10 274.8 388.8)"/>
<rect x="257.9" y="353.6" width="4.2" height="3.0" fill="#e6f250" opacity="0.89" transform="rotate(116 257.9 353.6)"/>
<rect x="280.8" y="336.1" width="3.0" height="1.4" fill="#e6f250" opacity="0.76" transform="rotate(1 280.8 336.1)"/>
<rect x="247.6" y="410.5" width="2.8" height="2.6" fill="#d8e848" opacity="0.67" transform="rotate(33 247.6 410.5)"/>
<rect x="272.5" y="379.1" width="4.8" height="2.5" fill="#c4da40" opacity="0.53" transform="rotate(12 272.5 379.1)"/>
<rect x="247.0" y="412.8" width="4.0" height="1.4" fill="#a8c038" opacity="0.74" transform="rotate(114 247.0 412.8)"/>
<rect x="278.5" y="347.8" width="2.0" height="2.0" fill="#e6f250" opacity="0.50" transform="rotate(106 278.5 347.8)"/>
<rect x="269.5" y="367.0" width="4.9" height="1.9" fill="#c4da40" opacity="0.52" transform="rotate(59 269.5 367.0)"/>
<rect x="265.6" y="373.3" width="4.0" height="2.5" fill="#a8c038" opacity="0.65" transform="rotate(113 265.6 373.3)"/>
<rect x="256.7" y="371.2" width="4.6" height="1.3" fill="#a8c038" opacity="0.66" transform="rotate(34 256.7 371.2)"/>
<rect x="229.7" y="391.9" width="4.3" height="2.6" fill="#c4da40" opacity="0.82" transform="rotate(9 229.7 391.9)"/>
<rect x="270.4" y="389.7" width="4.7" height="1.7" fill="#d8e848" opacity="0.52" transform="rotate(116 270.4 389.7)"/>
<rect x="284.0" y="363.3" width="5.0" height="2.8" fill="#c4da40" opacity="0.55" transform="rotate(107 284.0 363.3)"/>
<rect x="272.3" y="372.4" width="2.6" height="2.5" fill="#a8c038" opacity="0.53" transform="rotate(30 272.3 372.4)"/>
<rect x="248.8" y="400.0" width="4.2" height="1.4" fill="#d8e848" opacity="0.59" transform="rotate(1 248.8 400.0)"/>
<rect x="279.1" y="372.2" width="2.0" height="3.0" fill="#e6f250" opacity="0.63" transform="rotate(106 279.1 372.2)"/>
<rect x="273.2" y="356.8" width="3.2" height="2.6" fill="#d8e848" opacity="0.77" transform="rotate(67 273.2 356.8)"/>
<rect x="269.8" y="382.8" width="2.7" height="3.2" fill="#c4da40" opacity="0.78" transform="rotate(18 269.8 382.8)"/>
<rect x="227.9" y="391.4" width="3.0" height="1.7" fill="#a8c038" opacity="0.50" transform="rotate(100 227.9 391.4)"/>
<rect x="270.4" y="349.7" width="3.8" height="3.1" fill="#e6f250" opacity="0.71" transform="rotate(162 270.4 349.7)"/>
<rect x="296.8" y="333.8" width="4.0" height="3.1" fill="#d8e848" opacity="0.63" transform="rotate(26 296.8 333.8)"/>
<rect x="295.6" y="356.7" width="2.2" height="2.5" fill="#a8c038" opacity="0.60" transform="rotate(50 295.6 356.7)"/>
<rect x="281.8" y="371.6" width="4.6" height="3.2" fill="#c4da40" opacity="0.61" transform="rotate(47 281.8 371.6)"/>
<rect x="242.2" y="392.5" width="3.1" height="2.4" fill="#d8e848" opacity="0.50" transform="rotate(132 242.2 392.5)"/>
<rect x="232.7" y="389.0" width="3.4" height="2.2" fill="#c4da40" opacity="0.64" transform="rotate(5 232.7 389.0)"/>
<rect x="261.3" y="361.8" width="3.4" height="2.1" fill="#a8c038" opacity="0.57" transform="rotate(121 261.3 361.8)"/>
<rect x="278.2" y="383.1" width="4.3" height="2.3" fill="#c4da40" opacity="0.86" transform="rotate(111 278.2 383.1)"/>
<rect x="292.0" y="357.5" width="4.1" height="2.0" fill="#c4da40" opacity="0.70" transform="rotate(152 292.0 357.5)"/>
<rect x="229.5" y="399.7" width="4.9" height="1.3" fill="#a8c038" opacity="0.47" transform="rotate(18 229.5 399.7)"/>
<rect x="247.0" y="376.5" width="2.8" height="2.1" fill="#d8e848" opacity="0.87" transform="rotate(151 247.0 376.5)"/>
<rect x="257.0" y="375.7" width="2.7" height="1.3" fill="#e6f250" opacity="0.48" transform="rotate(29 257.0 375.7)"/>
<rect x="291.9" y="358.0" width="4.5" height="1.9" fill="#e6f250" opacity="0.75" transform="rotate(22 291.9 358.0)"/>
<rect x="275.4" y="342.4" width="3.7" height="2.9" fill="#e6f250" opacity="0.89" transform="rotate(122 275.4 342.4)"/>
<rect x="247.1" y="397.3" width="3.3" height="1.6" fill="#a8c038" opacity="0.83" transform="rotate(79 247.1 397.3)"/>
<rect x="234.5" y="391.7" width="3.5" height="1.3" fill="#d8e848" opacity="0.72" transform="rotate(24 234.5 391.7)"/>
<rect x="295.0" y="334.3" width="2.9" height="2.1" fill="#a8c038" opacity="0.81" transform="rotate(91 295.0 334.3)"/>
<rect x="289.4" y="335.9" width="4.8" height="2.6" fill="#d8e848" opacity="0.49" transform="rotate(154 289.4 335.9)"/>
<rect x="288.3" y="349.8" width="2.2" height="2.6" fill="#a8c038" opacity="0.52" transform="rotate(27 288.3 349.8)"/>
<rect x="281.8" y="360.3" width="2.4" height="2.5" fill="#c4da40" opacity="0.62" transform="rotate(56 281.8 360.3)"/>
<rect x="261.6" y="372.7" width="2.5" height="1.5" fill="#d8e848" opacity="0.50" transform="rotate(29 261.6 372.7)"/>
<rect x="246.8" y="386.3" width="3.0" height="1.6" fill="#d8e848" opacity="0.58" transform="rotate(177 246.8 386.3)"/>
<rect x="260.9" y="386.0" width="4.3" height="1.4" fill="#a8c038" opacity="0.74" transform="rotate(7 260.9 386.0)"/>
<rect x="242.7" y="414.5" width="4.3" height="2.9" fill="#a8c038" opacity="0.53" transform="rotate(164 242.7 414.5)"/>
<rect x="266.2" y="398.9" width="2.6" height="2.5" fill="#a8c038" opacity="0.87" transform="rotate(13 266.2 398.9)"/>
<rect x="241.1" y="385.7" width="4.2" height="3.0" fill="#c4da40" opacity="0.47" transform="rotate(143 241.1 385.7)"/>
<rect x="289.5" y="361.0" width="4.9" height="2.9" fill="#e6f250" opacity="0.70" transform="rotate(45 289.5 361.0)"/>
<rect x="274.2" y="342.2" width="2.8" height="1.7" fill="#c4da40" opacity="0.84" transform="rotate(121 274.2 342.2)"/>
<rect x="251.6" y="388.6" width="2.3" height="1.5" fill="#a8c038" opacity="0.67" transform="rotate(149 251.6 388.6)"/>
<rect x="255.3" y="396.7" width="2.5" height="3.1" fill="#a8c038" opacity="0.51" transform="rotate(109 255.3 396.7)"/>
<rect x="245.0" y="408.2" width="3.1" height="2.0" fill="#e6f250" opacity="0.74" transform="rotate(66 245.0 408.2)"/>
<rect x="238.1" y="406.8" width="2.8" height="2.6" fill="#d8e848" opacity="0.58" transform="rotate(28 238.1 406.8)"/>
<rect x="271.7" y="381.2" width="2.3" height="2.8" fill="#a8c038" opacity="0.59" transform="rotate(166 271.7 381.2)"/>
<rect x="232.1" y="387.8" width="4.9" height="2.3" fill="#a8c038" opacity="0.69" transform="rotate(113 232.1 387.8)"/>
<rect x="283.0" y="380.1" width="3.1" height="2.1" fill="#a8c038" opacity="0.58" transform="rotate(36 283.0 380.1)"/>
<rect x="261.5" y="357.7" width="3.4" height="1.6" fill="#a8c038" opacity="0.80" transform="rotate(103 261.5 357.7)"/>
<rect x="272.6" y="372.4" width="2.2" height="2.8" fill="#a8c038" opacity="0.46" transform="rotate(109 272.6 372.4)"/>
<rect x="239.6" y="404.5" width="3.0" height="2.2" fill="#c4da40" opacity="0.57" transform="rotate(79 239.6 404.5)"/>
<rect x="252.0" y="409.8" width="4.6" height="2.3" fill="#d8e848" opacity="0.81" transform="rotate(23 252.0 409.8)"/>
<rect x="288.0" y="367.8" width="3.5" height="1.6" fill="#e6f250" opacity="0.58" transform="rotate(111 288.0 367.8)"/>
<rect x="224.4" y="402.7" width="4.9" height="2.7" fill="#e6f250" opacity="0.66" transform="rotate(116 224.4 402.7)"/>
<rect x="250.0" y="376.5" width="3.6" height="2.0" fill="#a8c038" opacity="0.77" transform="rotate(93 250.0 376.5)"/>
<rect x="278.0" y="362.5" width="2.1" height="1.5" fill="#a8c038" opacity="0.59" transform="rotate(173 278.0 362.5)"/>
<rect x="277.7" y="366.4" width="3.7" height="2.5" fill="#e6f250" opacity="0.50" transform="rotate(110 277.7 366.4)"/>
<rect x="262.7" y="372.2" width="3.6" height="1.4" fill="#e6f250" opacity="0.48" transform="rotate(159 262.7 372.2)"/>
<rect x="234.0" y="384.9" width="4.3" height="1.6" fill="#a8c038" opacity="0.74" transform="rotate(59 234.0 384.9)"/>
<rect x="246.3" y="396.0" width="4.0" height="1.4" fill="#a8c038" opacity="0.54" transform="rotate(25 246.3 396.0)"/>
<rect x="300.1" y="330.9" width="4.5" height="2.0" fill="#a8c038" opacity="0.82" transform="rotate(29 300.1 330.9)"/>
<rect x="289.6" y="367.9" width="4.5" height="3.1" fill="#c4da40" opacity="0.50" transform="rotate(38 289.6 367.9)"/>
<rect x="237.6" y="415.8" width="2.3" height="1.2" fill="#d8e848" opacity="0.86" transform="rotate(152 237.6 415.8)"/>
<rect x="277.5" y="382.5" width="4.2" height="2.8" fill="#a8c038" opacity="0.66" transform="rotate(79 277.5 382.5)"/>
<rect x="254.2" y="354.3" width="3.5" height="3.1" fill="#c4da40" opacity="0.89" transform="rotate(158 254.2 354.3)"/>
<rect x="287.8" y="363.9" width="3.7" height="3.1" fill="#c4da40" opacity="0.85" transform="rotate(99 287.8 363.9)"/>
<rect x="263.8" y="367.2" width="3.0" height="1.9" fill="#a8c038" opacity="0.51" transform="rotate(56 263.8 367.2)"/>
<rect x="260.5" y="387.8" width="3.0" height="2.1" fill="#d8e848" opacity="0.53" transform="rotate(138 260.5 387.8)"/>
<rect x="279.3" y="373.2" width="3.4" height="1.4" fill="#a8c038" opacity="0.47" transform="rotate(151 279.3 373.2)"/>
<rect x="255.9" y="398.8" width="4.4" height="1.7" fill="#e6f250" opacity="0.86" transform="rotate(146 255.9 398.8)"/>
<rect x="293.7" y="329.6" width="2.5" height="3.2" fill="#d8e848" opacity="0.81" transform="rotate(36 293.7 329.6)"/>
<rect x="232.5" y="415.9" width="2.2" height="2.4" fill="#a8c038" opacity="0.49" transform="rotate(57 232.5 415.9)"/>
<rect x="271.8" y="345.4" width="2.2" height="1.8" fill="#d8e848" opacity="0.64" transform="rotate(53 271.8 345.4)"/>
<rect x="226.7" y="398.1" width="2.2" height="1.7" fill="#c4da40" opacity="0.60" transform="rotate(132 226.7 398.1)"/>
<rect x="230.0" y="410.9" width="2.9" height="1.7" fill="#e6f250" opacity="0.87" transform="rotate(53 230.0 410.9)"/>
<rect x="253.7" y="399.8" width="2.1" height="2.4" fill="#d8e848" opacity="0.49" transform="rotate(143 253.7 399.8)"/>
<rect x="295.8" y="336.5" width="2.5" height="1.7" fill="#d8e848" opacity="0.72" transform="rotate(145 295.8 336.5)"/>
<rect x="255.2" y="398.6" width="3.6" height="1.2" fill="#a8c038" opacity="0.80" transform="rotate(18 255.2 398.6)"/>
<rect x="287.5" y="356.3" width="2.8" height="2.0" fill="#c4da40" opacity="0.76" transform="rotate(174 287.5 356.3)"/>
<rect x="241.4" y="378.1" width="3.6" height="2.4" fill="#d8e848" opacity="0.82" transform="rotate(95 241.4 378.1)"/>
<rect x="266.9" y="342.7" width="3.6" height="2.3" fill="#c4da40" opacity="0.72" transform="rotate(160 266.9 342.7)"/>
<rect x="248.2" y="412.4" width="2.5" height="2.3" fill="#a8c038" opacity="0.79" transform="rotate(26 248.2 412.4)"/>
<rect x="293.7" y="354.5" width="4.5" height="2.1" fill="#a8c038" opacity="0.85" transform="rotate(59 293.7 354.5)"/>
<rect x="276.7" y="337.3" width="2.8" height="1.4" fill="#d8e848" opacity="0.78" transform="rotate(128 276.7 337.3)"/>
<rect x="229.2" y="397.4" width="2.2" height="2.1" fill="#a8c038" opacity="0.53" transform="rotate(45 229.2 397.4)"/>
<rect x="272.5" y="357.3" width="3.3" height="1.7" fill="#e6f250" opacity="0.50" transform="rotate(121 272.5 357.3)"/>
<rect x="250.5" y="402.8" width="3.6" height="1.5" fill="#c4da40" opacity="0.46" transform="rotate(56 250.5 402.8)"/>
<rect x="251.5" y="372.1" width="4.7" height="2.2" fill="#e6f250" opacity="0.75" transform="rotate(127 251.5 372.1)"/>
<rect x="262.9" y="377.2" width="2.3" height="1.6" fill="#d8e848" opacity="0.83" transform="rotate(132 262.9 377.2)"/>
<rect x="252.1" y="376.8" width="2.4" height="1.4" fill="#a8c038" opacity="0.70" transform="rotate(157 252.1 376.8)"/>
<rect x="295.4" y="329.0" width="4.1" height="2.1" fill="#e6f250" opacity="0.80" transform="rotate(134 295.4 329.0)"/>
<rect x="287.1" y="338.2" width="4.1" height="2.7" fill="#c4da40" opacity="0.57" transform="rotate(25 287.1 338.2)"/>
<rect x="290.0" y="366.9" width="2.3" height="1.3" fill="#e6f250" opacity="0.63" transform="rotate(126 290.0 366.9)"/>
<rect x="251.7" y="382.3" width="4.2" height="2.9" fill="#d8e848" opacity="0.47" transform="rotate(151 251.7 382.3)"/>
<rect x="229.5" y="409.3" width="2.1" height="2.4" fill="#c4da40" opacity="0.83" transform="rotate(124 229.5 409.3)"/>
<rect x="235.4" y="381.2" width="3.1" height="2.5" fill="#a8c038" opacity="0.86" transform="rotate(12 235.4 381.2)"/>
<rect x="248.1" y="393.5" width="3.4" height="2.6" fill="#d8e848" opacity="0.50" transform="rotate(99 248.1 393.5)"/>
<rect x="297.1" y="331.1" width="4.5" height="1.5" fill="#c4da40" opacity="0.82" transform="rotate(174 297.1 331.1)"/>
<rect x="258.3" y="374.1" width="4.6" height="2.4" fill="#e6f250" opacity="0.73" transform="rotate(132 258.3 374.1)"/>
<rect x="295.0" y="349.1" width="3.0" height="3.2" fill="#d8e848" opacity="0.70" transform="rotate(153 295.0 349.1)"/>
<rect x="237.5" y="380.1" width="4.4" height="3.1" fill="#a8c038" opacity="0.90" transform="rotate(146 237.5 380.1)"/>
<rect x="255.2" y="356.9" width="3.8" height="1.5" fill="#d8e848" opacity="0.61" transform="rotate(151 255.2 356.9)"/>
<rect x="297.1" y="334.5" width="3.9" height="3.2" fill="#c4da40" opacity="0.83" transform="rotate(107 297.1 334.5)"/>
<rect x="232.1" y="415.7" width="3.2" height="1.2" fill="#a8c038" opacity="0.61" transform="rotate(59 232.1 415.7)"/>
<rect x="262.7" y="380.8" width="4.6" height="2.4" fill="#d8e848" opacity="0.78" transform="rotate(134 262.7 380.8)"/>
<rect x="236.9" y="390.6" width="4.4" height="1.9" fill="#e6f250" opacity="0.54" transform="rotate(176 236.9 390.6)"/>
<rect x="265.3" y="374.1" width="2.9" height="3.0" fill="#e6f250" opacity="0.67" transform="rotate(52 265.3 374.1)"/>
<rect x="246.4" y="373.5" width="3.2" height="3.0" fill="#c4da40" opacity="0.80" transform="rotate(171 246.4 373.5)"/>
<rect x="273.8" y="339.5" width="2.2" height="1.5" fill="#c4da40" opacity="0.83" transform="rotate(135 273.8 339.5)"/>
<rect x="263.7" y="362.6" width="3.3" height="2.1" fill="#e6f250" opacity="0.59" transform="rotate(69 263.7 362.6)"/>
<rect x="289.7" y="350.1" width="4.5" height="2.7" fill="#c4da40" opacity="0.49" transform="rotate(4 289.7 350.1)"/>
</g>
<path d="M306.8 339.2 L306.5 341.2 L306.1 343.2 L305.6 345.4 L305.0 347.6 L304.2 349.9 L303.4 352.3 L302.4 354.7 L301.3 357.2 L300.0 359.7 L298.7 362.3 L297.3 364.9 L295.7 367.5 L294.1 370.1 L292.4 372.8 L290.5 375.4 L288.6 378.1 L286.7 380.7 L284.6 383.3 L282.5 385.9 L280.4 388.4 L278.1 390.9 L275.9 393.4 L273.6 395.8 L271.3 398.1 L268.9 400.3 L266.5 402.5 L264.2 404.6 L261.8 406.6 L259.4 408.5 L257.0 410.2 L254.6 411.9 L252.3 413.5 L250.0 414.9 L247.7 416.3 L245.5 417.5 L243.4 418.5 L241.2 419.5 L239.2 420.3 L237.2 420.9 L235.3 421.5" stroke="#e4f040" stroke-width="2.6" fill="none" opacity="0.85" stroke-linecap="round" filter="url(#soft)"/>
<path d="M403 139.3 L424 122.6 L420.2 116 L445.2 114.1 L438.1 138.4 L432.8 132.3 L412.6 150.8 Z" fill="url(#arrowG)"/>
<path d="M135.4 365.4 L173.4 333.7 L184.3 344 L144.7 377.3 Z" fill="url(#barG)"/>
<g stroke="#e8ec8c" stroke-width="1.4" fill="none">
<path d="M465.5 32.7 H460.2 V121.7 H465.5"/>
<path d="M575.7 32.7 H581 V121.7 H575.7"/>
<path d="M450 83 L469 93"/>
<path d="M488 93 L507 83 L536 100.6 L564 83.4 L592.3 99.3"/>
<path d="M562 83.4 V60 M566 83.4 V60"/>
</g>
<path d="M506.2 80.0 H507.8" stroke="#e8ec8c" stroke-width="1.2"/>
<path d="M505.6 76.4 H508.4" stroke="#e8ec8c" stroke-width="1.2"/>
<path d="M505.1 72.8 H508.9" stroke="#e8ec8c" stroke-width="1.2"/>
<path d="M504.6 69.2 H509.4" stroke="#e8ec8c" stroke-width="1.2"/>
<path d="M504.0 65.6 H510.0" stroke="#e8ec8c" stroke-width="1.2"/>
<path d="M503.4 62.0 H510.6" stroke="#e8ec8c" stroke-width="1.2"/>
<g fill="#e8ec8c" font-family="Liberation Sans, sans-serif">
<text x="470.3" y="106.5" font-size="21">O</text>
<text x="498.5" y="59.3" font-size="21.5">CH<tspan font-size="16" dy="4" dx="0.5">3</tspan></text>
<text x="555.5" y="57.8" font-size="21">O</text>
<text x="592" y="122" font-size="21">n</text>
<text x="36" y="416.2" font-size="20.5">H<tspan font-size="15" dy="4">3</tspan><tspan dy="-4">C</tspan></text>
<text x="84" y="362.8" font-size="20">O</text>
<text x="105" y="416.2" font-size="20.5">O<tspan font-size="14" dy="-8">-</tspan></text>
<text x="141" y="416.2" font-size="20.5">Na<tspan font-size="14" dy="-8">+</tspan></text>
</g>
<g stroke="#e8ec8c" stroke-width="1.6" fill="none">
<path d="M75 401 L90.9 387.3 L105.5 400.9"/>
<path d="M88.8 387.3 V364 M92.6 386 V364"/>
</g>
<g fill="#ffffff" stroke="#ffffff" stroke-width="0.45" font-family="Liberation Sans, sans-serif" font-size="19">
<text x="246" y="90">PhaC</text>
<text x="82" y="219">ACS</text>
<text x="208" y="212">PAP</text>
<text x="472" y="254.3">PhaA</text>
<text x="303.5" y="421.6">PhaB</text>
</g>
</g>
</g>
<g id="chart">
<path d="M728.60 53.10H1178.30" stroke="#000" stroke-width="1.5" fill="none"/>
<path d="M735.80 52.40V378.80H1179.05" stroke="#000" stroke-width="1.5" fill="none"/>
<path d="M1178.30 52.40V378.80" stroke="#a3222a" stroke-width="1.5" fill="none"/>
<path d="M728.60 373.46H735.80" stroke="#000" stroke-width="1.5"/>
<text transform="translate(724.30 371.16) scale(1 1.1)" x="0" y="10.2" font-size="28.5" text-anchor="end" fill="#000">0</text>
<path d="M728.60 320.07H735.80" stroke="#000" stroke-width="1.5"/>
<text transform="translate(724.30 317.77) scale(1 1.1)" x="0" y="10.2" font-size="28.5" text-anchor="end" fill="#000">10</text>
<path d="M728.60 266.67H735.80" stroke="#000" stroke-width="1.5"/>
<text transform="translate(724.30 264.37) scale(1 1.1)" x="0" y="10.2" font-size="28.5" text-anchor="end" fill="#000">20</text>
<path d="M728.60 213.28H735.80" stroke="#000" stroke-width="1.5"/>
<text transform="translate(724.30 210.98) scale(1 1.1)" x="0" y="10.2" font-size="28.5" text-anchor="end" fill="#000">30</text>
<path d="M728.60 159.89H735.80" stroke="#000" stroke-width="1.5"/>
<text transform="translate(724.30 157.59) scale(1 1.1)" x="0" y="10.2" font-size="28.5" text-anchor="end" fill="#000">40</text>
<path d="M728.60 106.49H735.80" stroke="#000" stroke-width="1.5"/>
<text transform="translate(724.30 104.19) scale(1 1.1)" x="0" y="10.2" font-size="28.5" text-anchor="end" fill="#000">50</text>
<path d="M728.60 53.10H735.80" stroke="#000" stroke-width="1.5"/>
<text transform="translate(724.30 50.80) scale(1 1.1)" x="0" y="10.2" font-size="28.5" text-anchor="end" fill="#000">60</text>
<path d="M756.87 378.80V386.00" stroke="#000" stroke-width="1.5"/>
<text transform="translate(756.87 402.1) scale(1 1.1)" x="0" y="10.2" font-size="28.5" text-anchor="middle" fill="#000">0</text>
<path d="M809.55 378.80V386.00" stroke="#000" stroke-width="1.5"/>
<text transform="translate(809.55 402.1) scale(1 1.1)" x="0" y="10.2" font-size="28.5" text-anchor="middle" fill="#000">5</text>
<path d="M862.23 378.80V386.00" stroke="#000" stroke-width="1.5"/>
<text transform="translate(862.23 402.1) scale(1 1.1)" x="0" y="10.2" font-size="28.5" text-anchor="middle" fill="#000">10</text>
<path d="M914.91 378.80V386.00" stroke="#000" stroke-width="1.5"/>
<text transform="translate(914.91 402.1) scale(1 1.1)" x="0" y="10.2" font-size="28.5" text-anchor="middle" fill="#000">15</text>
<path d="M967.59 378.80V386.00" stroke="#000" stroke-width="1.5"/>
<text transform="translate(967.59 402.1) scale(1 1.1)" x="0" y="10.2" font-size="28.5" text-anchor="middle" fill="#000">20</text>
<path d="M1020.26 378.80V386.00" stroke="#000" stroke-width="1.5"/>
<text transform="translate(1020.26 402.1) scale(1 1.1)" x="0" y="10.2" font-size="28.5" text-anchor="middle" fill="#000">25</text>
<path d="M1072.94 378.80V386.00" stroke="#000" stroke-width="1.5"/>
<text transform="translate(1072.94 402.1) scale(1 1.1)" x="0" y="10.2" font-size="28.5" text-anchor="middle" fill="#000">30</text>
<path d="M1125.62 378.80V386.00" stroke="#000" stroke-width="1.5"/>
<text transform="translate(1125.62 402.1) scale(1 1.1)" x="0" y="10.2" font-size="28.5" text-anchor="middle" fill="#000">35</text>
<path d="M1178.30 378.80V386.00" stroke="#000" stroke-width="1.5"/>
<text transform="translate(1178.30 402.1) scale(1 1.1)" x="0" y="10.2" font-size="28.5" text-anchor="middle" fill="#000">40</text>
<path d="M1178.30 368.29H1185.50" stroke="#c8161f" stroke-width="1.5"/>
<text transform="translate(1189.30 365.89) scale(1 1.1)" x="0" y="10.2" font-size="28.5" fill="#c8161f">0</text>
<path d="M1178.30 315.76H1185.50" stroke="#c8161f" stroke-width="1.5"/>
<text transform="translate(1189.30 313.36) scale(1 1.1)" x="0" y="10.2" font-size="28.5" fill="#c8161f">5</text>
<path d="M1178.30 263.23H1185.50" stroke="#c8161f" stroke-width="1.5"/>
<text transform="translate(1189.30 260.83) scale(1 1.1)" x="0" y="10.2" font-size="28.5" fill="#c8161f">10</text>
<path d="M1178.30 210.70H1185.50" stroke="#c8161f" stroke-width="1.5"/>
<text transform="translate(1189.30 208.30) scale(1 1.1)" x="0" y="10.2" font-size="28.5" fill="#c8161f">15</text>
<path d="M1178.30 158.16H1185.50" stroke="#c8161f" stroke-width="1.5"/>
<text transform="translate(1189.30 155.76) scale(1 1.1)" x="0" y="10.2" font-size="28.5" fill="#c8161f">20</text>
<path d="M1178.30 105.63H1185.50" stroke="#c8161f" stroke-width="1.5"/>
<text transform="translate(1189.30 103.23) scale(1 1.1)" x="0" y="10.2" font-size="28.5" fill="#c8161f">25</text>
<path d="M1178.30 53.10H1185.50" stroke="#c8161f" stroke-width="1.5"/>
<text transform="translate(1189.30 50.70) scale(1 1.1)" x="0" y="10.2" font-size="28.5" fill="#c8161f">30</text>
<text transform="translate(957 448.5) scale(1 1.06)" x="0" y="0" font-size="28.5" text-anchor="middle" fill="#000">Time (h)</text>
<text transform="translate(676 234.75) rotate(-90) scale(1 1.05)" x="0" y="0" font-size="28.6" text-anchor="middle" fill="#000">Sodium acetate (mM)</text>
<text transform="translate(1253 234.5) rotate(-90) scale(1 1.05)" x="0" y="0" font-size="28.6" text-anchor="middle" fill="#c8161f">PHB (mM)</text>
<path d="M756.87 107.20 L777.94 167.60 L809.55 252.00 L862.23 287.60 L1009.73 310.90 L1136.16 316.30" stroke="#127672" stroke-width="1.7" fill="none" stroke-linejoin="round"/>
<path d="M756.87 104.50V109.80M753.07 104.50H760.67M753.07 109.80H760.67" stroke="#127672" stroke-width="1.6" fill="none"/>
<circle cx="756.87" cy="107.20" r="2.1" fill="#fff" stroke="#127672" stroke-width="1.3"/>
<path d="M777.94 165.20V170.30M774.14 165.20H781.74M774.14 170.30H781.74" stroke="#127672" stroke-width="1.6" fill="none"/>
<circle cx="777.94" cy="167.60" r="2.1" fill="#fff" stroke="#127672" stroke-width="1.3"/>
<path d="M809.55 250.30V254.10M805.75 250.30H813.35M805.75 254.10H813.35" stroke="#127672" stroke-width="1.6" fill="none"/>
<circle cx="809.55" cy="252.00" r="2.1" fill="#fff" stroke="#127672" stroke-width="1.3"/>
<path d="M862.23 283.90V292.20M858.43 283.90H866.03M858.43 292.20H866.03" stroke="#127672" stroke-width="1.6" fill="none"/>
<circle cx="862.23" cy="287.60" r="2.1" fill="#fff" stroke="#127672" stroke-width="1.3"/>
<path d="M1009.73 303.20V318.60M1005.93 303.20H1013.53M1005.93 318.60H1013.53" stroke="#127672" stroke-width="1.6" fill="none"/>
<circle cx="1009.73" cy="310.90" r="2.1" fill="#fff" stroke="#127672" stroke-width="1.3"/>
<path d="M1136.16 313.50V319.20M1132.36 313.50H1139.96M1132.36 319.20H1139.96" stroke="#127672" stroke-width="1.6" fill="none"/>
<circle cx="1136.16" cy="316.30" r="2.1" fill="#fff" stroke="#127672" stroke-width="1.3"/>
<path d="M756.87 367.10 L777.94 310.20 L809.55 238.70 L862.23 187.50 L1009.73 167.50 L1136.16 152.40" stroke="#bf1a22" stroke-width="1.7" fill="none" stroke-linejoin="round"/>
<path d="M756.87 366.30V368.00M753.07 366.30H760.67M753.07 368.00H760.67" stroke="#bf1a22" stroke-width="1.6" fill="none"/>
<circle cx="756.87" cy="367.10" r="2.1" fill="#fff" stroke="#bf1a22" stroke-width="1.3"/>
<path d="M777.94 306.90V313.50M774.14 306.90H781.74M774.14 313.50H781.74" stroke="#bf1a22" stroke-width="1.6" fill="none"/>
<circle cx="777.94" cy="310.20" r="2.1" fill="#fff" stroke="#bf1a22" stroke-width="1.3"/>
<path d="M809.55 236.00V242.00M805.75 236.00H813.35M805.75 242.00H813.35" stroke="#bf1a22" stroke-width="1.6" fill="none"/>
<circle cx="809.55" cy="238.70" r="2.1" fill="#fff" stroke="#bf1a22" stroke-width="1.3"/>
<path d="M862.23 184.80V190.60M858.43 184.80H866.03M858.43 190.60H866.03" stroke="#bf1a22" stroke-width="1.6" fill="none"/>
<circle cx="862.23" cy="187.50" r="2.1" fill="#fff" stroke="#bf1a22" stroke-width="1.3"/>
<path d="M1009.73 164.60V170.40M1005.93 164.60H1013.53M1005.93 170.40H1013.53" stroke="#bf1a22" stroke-width="1.6" fill="none"/>
<circle cx="1009.73" cy="167.50" r="2.1" fill="#fff" stroke="#bf1a22" stroke-width="1.3"/>
<path d="M1136.16 149.50V155.40M1132.36 149.50H1139.96M1132.36 155.40H1139.96" stroke="#bf1a22" stroke-width="1.6" fill="none"/>
<circle cx="1136.16" cy="152.40" r="2.1" fill="#fff" stroke="#bf1a22" stroke-width="1.3"/>
<path d="M958.7 72.2H1009.5" stroke="#b01e26" stroke-width="1.6"/>
<circle cx="983.9" cy="72.2" r="2.1" fill="#fff" stroke="#c8161f" stroke-width="1.3"/>
<text x="1015.6" y="79.4" font-size="22" fill="#000">PHB</text>
<path d="M958.2 97.2H1008" stroke="#127672" stroke-width="1.5"/>
<circle cx="982.6" cy="97.2" r="2.1" fill="#fff" stroke="#127672" stroke-width="1.3"/>
<text x="1014.6" y="103.8" font-size="22" fill="#000">Sodium acetate</text>
<text x="1029.5" y="222.8" font-size="22" fill="#000">E<tspan font-style="italic">c</tspan> = 80%</text>
<text x="1029.5" y="251.8" font-size="22" fill="#000"><tspan font-family="Liberation Serif, serif" font-size="23">η</tspan> = 3.04%</text>
</g>
</svg>
</body></html>
